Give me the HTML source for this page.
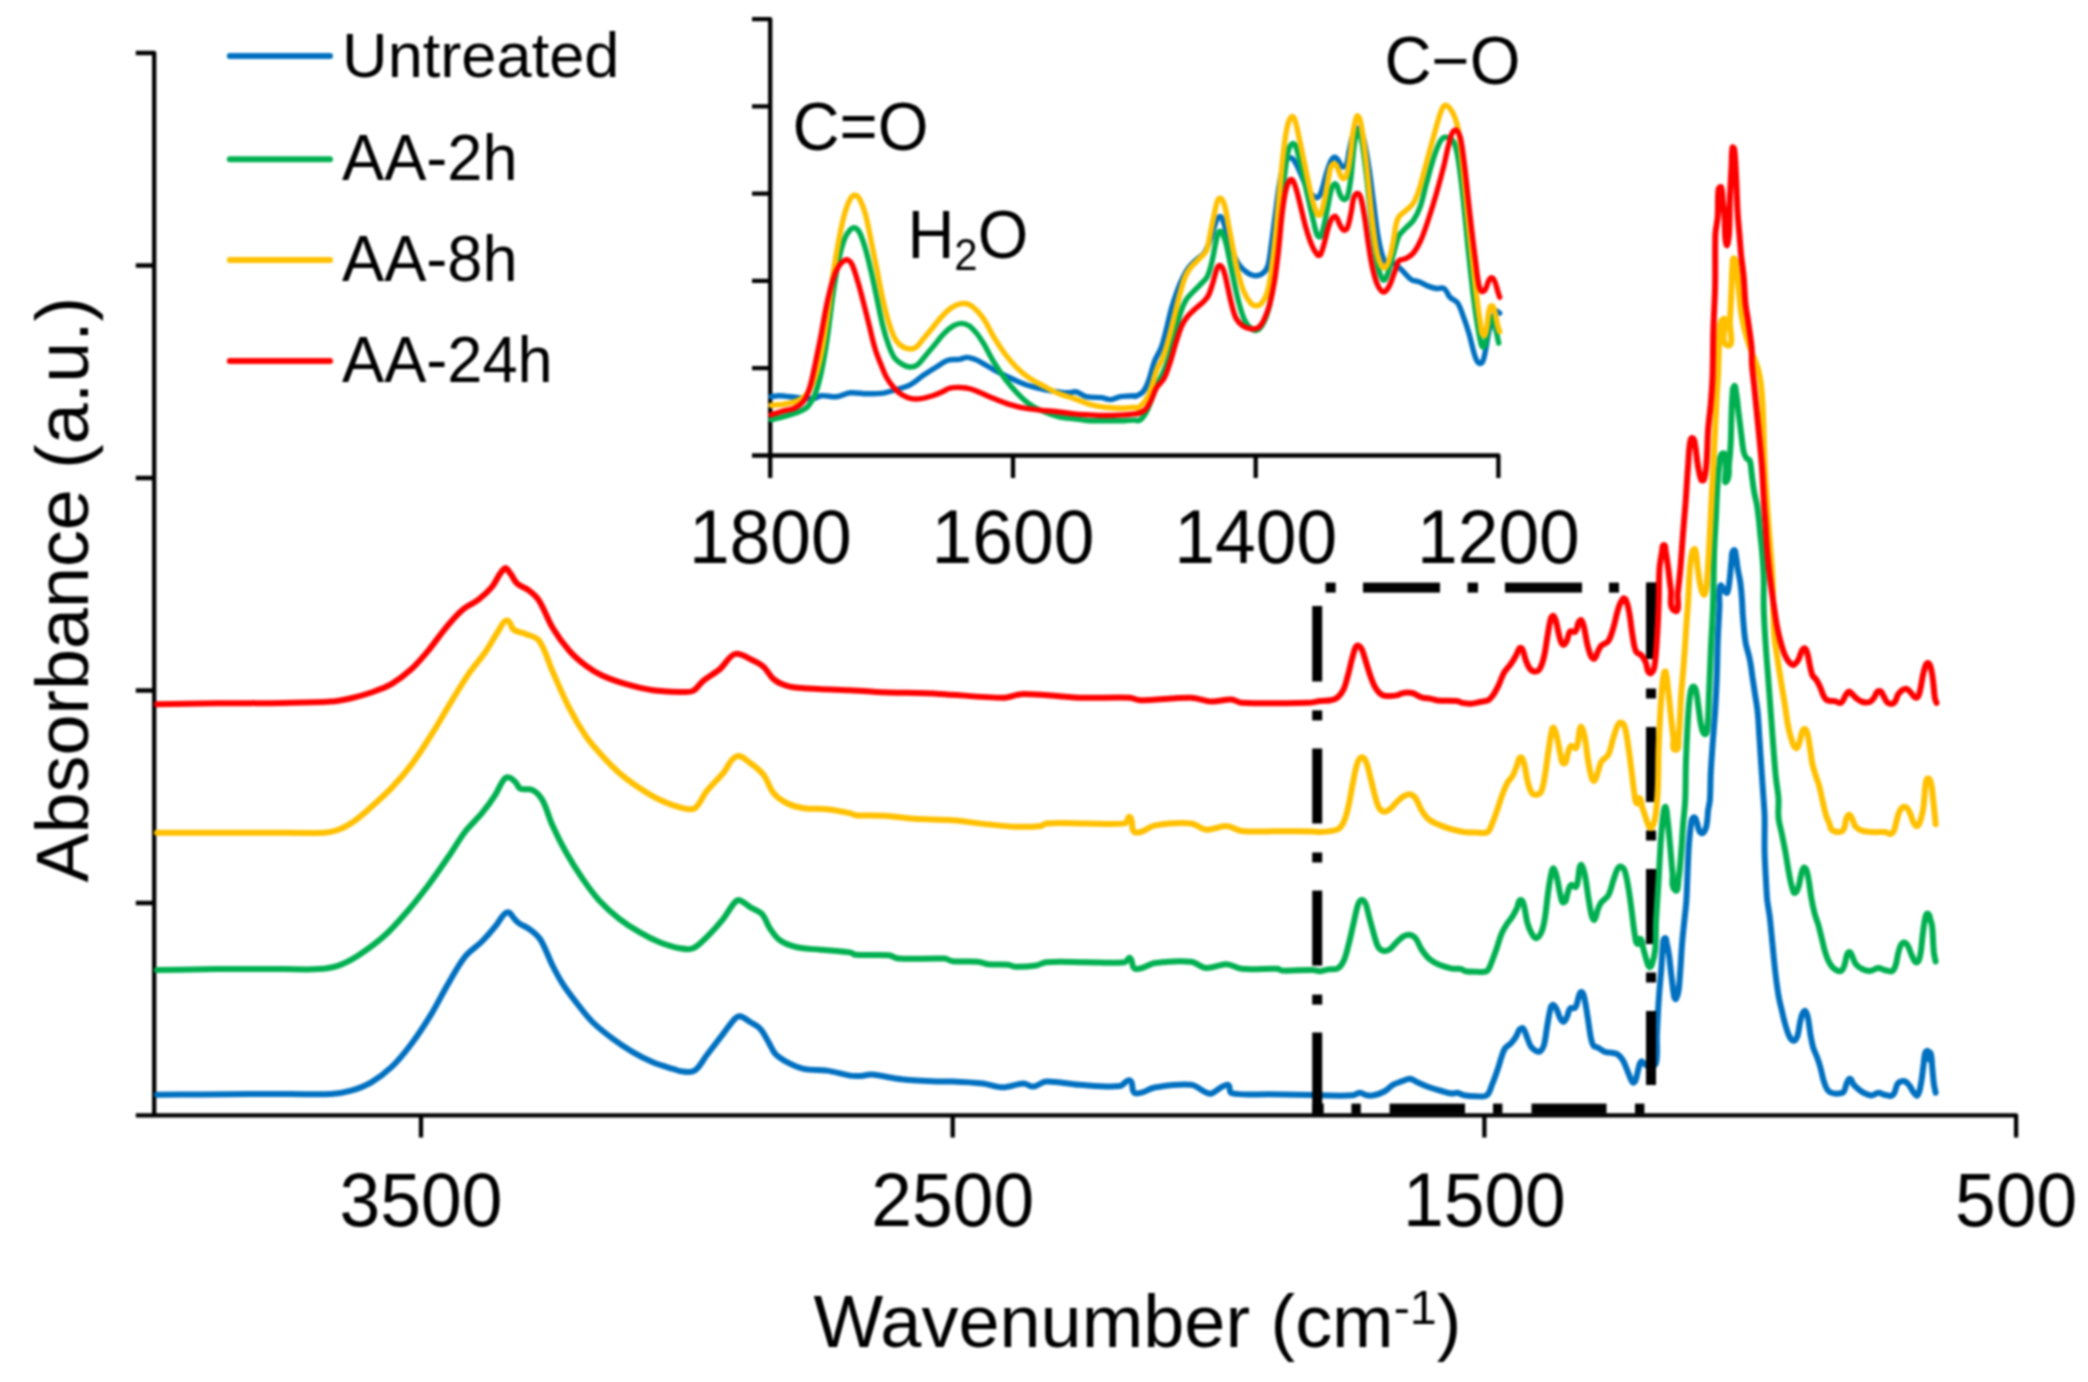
<!DOCTYPE html>
<html lang="en"><head><meta charset="utf-8"><title>FTIR spectra</title>
<style>
html,body{margin:0;padding:0;background:#fff;}
body{width:2088px;height:1382px;overflow:hidden;}
svg{display:block;filter:blur(0.8px);}
svg text{font-family:"Liberation Sans",sans-serif;fill:#000;}
</style></head><body>
<svg width="2088" height="1382" viewBox="0 0 2088 1382" role="img" aria-label="FTIR absorbance spectra">
<rect width="2088" height="1382" fill="#fff"/>
<path d="M135.8 53H154.2V1115.3M135.8 1115.3H2016.1V1137.5M135.8 265.5H154.2M135.8 478.0H154.2M135.8 690.5H154.2M135.8 903.0H154.2M421.0 1115.3V1137.5M952.7 1115.3V1137.5M1484.4 1115.3V1137.5" fill="none" stroke="#000" stroke-width="4.3" stroke-linecap="butt" stroke-linejoin="round"/>
<path d="M752 19.1H770.2V478M752 455.5H1498.4V478M752 106.4H770.2M752 193.6H770.2M752 280.9H770.2M752 368.2H770.2M1013.0 455.5V478M1255.7 455.5V478" fill="none" stroke="#000" stroke-width="4.3" stroke-linecap="butt" stroke-linejoin="round"/>
<path d="M157.0 1094.7C172.6 1094.6 188.2 1094.5 203.8 1094.4C219.4 1094.3 235.0 1094.1 250.6 1094.0C264.0 1094.0 277.4 1094.0 290.8 1094.0C304.2 1094.0 317.6 1094.8 331.0 1094.0C337.8 1093.7 344.6 1092.6 351.1 1090.7C358.1 1088.6 365.0 1086.0 371.3 1082.3C378.5 1078.1 385.3 1073.0 391.4 1067.2C398.8 1060.1 405.3 1052.0 411.5 1043.7C418.7 1034.1 425.3 1023.9 431.6 1013.6C437.6 1003.8 442.5 993.3 448.4 983.4C453.7 974.3 458.5 964.8 465.1 956.6C469.8 950.7 476.6 946.8 481.9 941.5C486.7 936.7 491.1 931.6 495.3 926.4C498.3 922.7 500.4 918.2 503.7 914.7C505.0 913.3 507.0 911.7 508.7 912.3C511.1 913.1 512.0 916.2 513.7 918.0C515.4 919.8 516.8 921.7 518.8 923.1C522.5 925.6 526.9 927.0 530.5 929.8C534.3 932.7 538.1 935.8 540.6 939.8C545.4 947.7 548.2 956.7 552.3 965.0C555.4 971.2 558.6 977.5 562.4 983.4C566.4 989.8 571.1 995.9 575.8 1001.8C581.1 1008.7 586.4 1015.8 592.5 1022.0C598.7 1028.1 605.7 1033.5 612.6 1038.7C619.1 1043.6 625.8 1048.1 632.8 1052.1C639.2 1055.9 646.0 1059.3 652.9 1062.2C659.4 1064.9 666.2 1066.8 673.0 1068.9C676.3 1069.9 679.6 1071.3 683.0 1071.6C687.0 1071.9 691.5 1072.8 694.8 1070.6C700.0 1067.0 702.6 1060.5 706.5 1055.5C712.1 1048.2 717.7 1040.9 723.3 1033.7C727.2 1028.6 730.6 1023.2 735.0 1018.6C736.3 1017.3 738.2 1015.9 740.0 1016.3C743.8 1017.1 746.8 1019.9 750.1 1022.0C753.5 1024.1 757.4 1025.7 760.2 1028.7C763.7 1032.5 765.8 1037.5 768.5 1042.1C770.9 1045.9 772.2 1050.5 775.2 1053.8C778.5 1057.3 782.7 1059.9 787.0 1062.2C792.3 1065.0 797.8 1067.7 803.7 1068.9C811.4 1070.5 819.4 1069.4 827.2 1070.6C834.9 1071.7 842.3 1074.4 850.0 1075.6C853.6 1076.2 857.3 1076.1 860.9 1075.9C864.3 1075.8 867.7 1074.4 871.1 1074.6C881.3 1075.5 891.3 1078.1 901.5 1079.2C913.3 1080.4 925.2 1081.0 937.1 1081.5C942.1 1081.7 947.2 1081.3 952.3 1081.5C962.5 1081.9 972.6 1082.4 982.8 1083.5C989.6 1084.3 996.2 1087.3 1003.1 1087.3C1010.0 1087.3 1016.5 1083.7 1023.4 1083.5C1026.9 1083.4 1030.0 1086.9 1033.5 1086.6C1038.1 1086.2 1041.7 1081.7 1046.2 1081.5C1057.3 1081.1 1068.2 1084.1 1079.2 1084.8C1092.7 1085.6 1106.3 1087.2 1119.8 1086.1C1123.7 1085.7 1126.5 1078.8 1130.0 1080.5C1134.1 1082.4 1130.7 1092.0 1135.1 1093.2C1141.9 1095.0 1148.4 1088.4 1155.4 1087.3C1167.1 1085.6 1179.1 1083.6 1190.9 1084.8C1196.5 1085.4 1200.9 1090.1 1206.1 1092.4C1207.7 1093.1 1209.6 1094.3 1211.2 1093.7C1217.1 1091.6 1221.5 1085.0 1227.7 1084.8C1230.8 1084.7 1228.5 1092.5 1231.5 1093.2C1243.9 1095.9 1256.9 1093.9 1269.6 1094.2C1284.0 1094.5 1298.4 1094.6 1312.7 1094.9C1315.2 1095.0 1317.6 1095.3 1320.0 1095.3C1331.0 1095.4 1342.0 1096.1 1353.0 1095.3C1355.5 1095.2 1357.5 1092.7 1359.9 1092.7C1362.4 1092.7 1364.5 1094.9 1366.9 1095.3C1369.2 1095.8 1371.6 1095.8 1373.8 1095.3C1377.4 1094.5 1381.0 1093.3 1384.3 1091.5C1387.4 1089.8 1389.8 1086.7 1392.9 1084.9C1395.6 1083.4 1398.7 1082.5 1401.6 1081.4C1404.5 1080.4 1407.3 1078.7 1410.3 1078.8C1412.9 1079.0 1414.9 1081.3 1417.3 1082.3C1420.7 1083.9 1424.1 1085.4 1427.7 1086.7C1432.2 1088.3 1436.9 1089.7 1441.6 1091.0C1445.0 1092.0 1448.4 1093.2 1452.0 1093.6C1453.7 1093.8 1455.4 1092.5 1457.2 1092.7C1459.6 1093.1 1461.7 1094.9 1464.1 1095.3C1468.1 1096.1 1472.2 1096.2 1476.3 1096.2C1479.8 1096.2 1483.9 1097.4 1486.7 1095.3C1489.9 1093.1 1490.4 1088.5 1491.9 1084.9C1493.9 1080.4 1495.5 1075.7 1497.1 1071.0C1498.7 1066.4 1499.9 1061.7 1501.5 1057.1C1502.5 1054.2 1503.2 1051.0 1504.9 1048.5C1506.5 1046.3 1509.2 1045.2 1511.0 1043.2C1513.0 1041.1 1514.7 1038.7 1516.2 1036.3C1517.6 1034.1 1518.0 1031.3 1519.7 1029.3C1520.5 1028.5 1522.3 1027.6 1523.2 1028.5C1525.2 1030.5 1525.5 1033.7 1526.7 1036.3C1528.1 1039.8 1529.0 1043.6 1531.0 1046.7C1532.2 1048.6 1534.2 1050.1 1536.2 1051.1C1537.5 1051.7 1539.4 1051.9 1540.5 1051.1C1542.4 1049.6 1543.4 1047.2 1544.0 1045.0C1545.8 1038.2 1546.2 1031.1 1547.5 1024.1C1548.6 1018.3 1549.2 1012.4 1551.0 1006.8C1551.3 1005.8 1552.7 1004.5 1553.6 1005.0C1555.4 1006.1 1556.1 1008.4 1557.0 1010.2C1558.4 1013.0 1558.9 1016.3 1560.5 1018.9C1561.3 1020.2 1562.7 1022.2 1564.0 1021.5C1566.1 1020.5 1566.5 1017.6 1567.5 1015.5C1568.5 1013.2 1568.3 1010.3 1570.1 1008.5C1571.3 1007.3 1574.3 1009.1 1575.3 1007.6C1577.6 1004.4 1577.3 1000.0 1578.8 996.4C1579.4 994.8 1579.7 992.0 1581.4 992.0C1583.0 992.0 1583.5 994.7 1584.0 996.4C1585.6 1002.6 1586.4 1009.1 1587.4 1015.5C1588.7 1023.0 1589.4 1030.6 1590.9 1038.0C1591.5 1040.7 1591.9 1043.6 1593.5 1045.8C1594.4 1047.1 1596.5 1046.8 1597.9 1047.6C1600.3 1048.9 1602.2 1051.0 1604.8 1051.9C1607.0 1052.7 1609.5 1052.3 1611.8 1052.8C1613.8 1053.2 1616.1 1053.3 1617.8 1054.5C1620.0 1056.0 1621.7 1058.3 1623.0 1060.6C1625.2 1064.4 1626.5 1068.7 1628.2 1072.8C1629.7 1076.0 1630.4 1079.6 1632.6 1082.3C1633.2 1083.0 1634.8 1082.3 1635.2 1081.4C1637.0 1077.0 1637.3 1072.1 1638.7 1067.6C1639.3 1065.4 1639.4 1062.6 1641.3 1061.5C1642.5 1060.8 1643.5 1063.3 1644.7 1064.1C1646.4 1065.1 1648.0 1066.8 1650.0 1066.7C1652.3 1066.5 1655.5 1065.5 1656.0 1063.2C1658.1 1054.2 1656.5 1044.7 1656.9 1035.5C1657.4 1023.9 1657.9 1012.3 1658.7 1000.7C1659.3 990.3 1660.4 979.9 1661.3 969.5C1661.9 961.4 1662.1 953.2 1663.0 945.2C1663.3 942.8 1662.6 939.2 1664.7 938.2C1666.4 937.4 1666.4 941.6 1666.8 943.4C1667.8 947.4 1668.5 951.5 1669.1 955.6C1670.1 963.1 1670.7 970.6 1671.7 978.1C1672.5 984.5 1673.0 991.0 1674.3 997.3C1674.5 998.1 1675.6 999.7 1676.0 999.0C1677.6 996.4 1678.2 993.3 1678.6 990.3C1679.6 983.4 1679.8 976.4 1680.4 969.5C1681.0 960.8 1681.4 952.1 1682.1 943.4C1682.8 934.7 1683.8 926.0 1684.7 917.4C1685.3 911.6 1686.1 905.8 1686.4 900.0C1687.1 889.8 1687.2 879.6 1687.7 869.5C1688.1 860.8 1688.3 852.1 1689.0 843.4C1689.7 835.9 1690.2 828.3 1691.6 820.8C1691.9 819.4 1692.9 816.9 1694.3 817.4C1696.1 818.0 1696.2 820.8 1696.9 822.6C1697.9 825.4 1697.9 828.6 1699.5 831.3C1700.1 832.4 1701.9 833.8 1702.9 833.0C1705.0 831.4 1705.8 828.6 1706.4 826.0C1707.6 820.9 1707.5 815.6 1708.1 810.4C1708.6 806.9 1709.6 803.5 1709.9 800.0C1710.5 790.8 1710.3 781.6 1710.8 772.3C1711.2 763.7 1711.9 755.0 1712.5 746.3C1713.3 734.7 1714.4 723.2 1715.1 711.6C1715.8 700.0 1716.4 688.4 1716.8 676.8C1717.3 665.3 1717.3 653.7 1717.7 642.1C1718.1 630.5 1718.9 618.9 1719.4 607.4C1719.8 600.2 1718.1 592.6 1720.3 585.8C1721.0 583.6 1723.0 589.4 1724.6 591.0C1725.4 591.7 1726.9 593.7 1727.3 592.7C1729.1 587.8 1729.2 582.3 1729.9 577.1C1730.6 571.3 1730.8 565.5 1731.6 559.7C1732.0 556.5 1731.1 552.2 1733.7 550.2C1735.4 548.8 1735.5 554.1 1735.9 556.2C1736.8 560.2 1737.0 564.4 1737.7 568.4C1738.4 573.0 1739.6 577.6 1740.3 582.3C1741.1 588.2 1741.6 594.1 1742.0 600.0C1742.4 605.3 1742.4 610.7 1742.9 616.0C1743.6 624.7 1744.1 633.5 1745.5 642.1C1746.4 648.0 1748.7 653.6 1749.8 659.5C1751.0 665.2 1751.6 671.0 1752.4 676.8C1753.3 682.6 1754.2 688.4 1755.0 694.2C1755.9 700.0 1757.1 705.7 1757.6 711.6C1758.5 720.2 1758.8 728.9 1759.4 737.6C1760.0 746.3 1760.5 755.0 1761.1 763.7C1761.7 772.3 1762.3 781.0 1762.9 789.7C1763.4 798.4 1764.3 807.1 1764.6 815.8C1764.9 827.9 1764.3 840.0 1764.6 852.1C1764.9 863.7 1765.7 875.3 1766.3 886.8C1766.6 891.2 1766.7 895.6 1767.2 900.0C1767.9 905.8 1769.1 911.6 1769.8 917.4C1770.8 926.0 1771.5 934.7 1772.4 943.4C1773.3 952.1 1774.0 960.8 1775.0 969.5C1776.0 978.2 1777.0 986.9 1778.5 995.5C1779.4 1000.8 1780.7 1005.9 1782.0 1011.1C1783.0 1015.8 1784.1 1020.5 1785.4 1025.0C1786.7 1029.2 1787.7 1033.4 1789.8 1037.2C1790.7 1038.8 1792.3 1041.1 1794.1 1040.7C1796.1 1040.2 1797.0 1037.4 1797.6 1035.5C1799.0 1031.0 1799.1 1026.2 1800.2 1021.6C1800.9 1018.6 1801.4 1015.6 1802.8 1012.9C1803.3 1011.9 1804.7 1010.4 1805.4 1011.1C1807.1 1012.9 1807.5 1015.7 1808.0 1018.1C1809.2 1023.8 1809.6 1029.7 1810.6 1035.5C1811.3 1039.5 1812.1 1043.6 1813.2 1047.6C1814.1 1050.6 1815.6 1053.4 1816.7 1056.3C1817.9 1059.7 1819.2 1063.2 1820.2 1066.7C1821.5 1071.3 1822.2 1076.0 1823.6 1080.6C1824.5 1083.6 1825.4 1086.7 1827.1 1089.3C1828.1 1090.8 1829.7 1092.1 1831.4 1092.8C1833.6 1093.6 1836.1 1093.8 1838.4 1093.6C1840.2 1093.5 1842.5 1093.3 1843.6 1091.9C1845.7 1089.2 1845.5 1085.4 1847.1 1082.3C1847.8 1081.0 1848.7 1078.4 1850.2 1078.9C1852.1 1079.4 1851.9 1082.5 1853.2 1084.1C1854.4 1085.7 1855.9 1087.1 1857.5 1088.4C1859.4 1090.0 1861.3 1091.7 1863.6 1092.8C1866.0 1094.0 1868.6 1095.4 1871.4 1095.4C1873.9 1095.4 1875.9 1092.9 1878.3 1092.8C1880.2 1092.6 1881.8 1094.0 1883.5 1094.5C1885.8 1095.1 1888.1 1096.1 1890.5 1095.9C1891.9 1095.8 1893.3 1094.8 1894.0 1093.6C1895.7 1090.7 1895.8 1087.0 1897.4 1084.1C1898.2 1082.8 1899.5 1081.9 1900.9 1081.5C1902.3 1081.0 1904.0 1080.8 1905.3 1081.5C1907.1 1082.4 1908.3 1084.2 1909.6 1085.8C1911.3 1088.0 1912.2 1090.7 1913.9 1092.8C1914.9 1093.9 1916.5 1096.5 1917.4 1095.4C1919.9 1092.3 1920.1 1087.9 1920.9 1084.1C1922.1 1077.8 1922.6 1071.3 1923.5 1065.0C1924.1 1060.9 1924.0 1056.7 1925.2 1052.8C1925.5 1051.8 1927.3 1050.2 1927.8 1051.1C1929.4 1053.6 1927.1 1058.1 1929.6 1059.8C1931.5 1061.1 1929.6 1050.6 1930.4 1052.8C1932.1 1057.2 1931.7 1062.1 1932.2 1066.7C1932.8 1072.5 1933.1 1078.3 1933.9 1084.1C1934.3 1087.0 1935.1 1089.9 1935.6 1092.8" fill="none" stroke="#0070C0" stroke-width="6.0" stroke-linejoin="round" stroke-linecap="round"/>
<g fill="#000"><rect x="1325.6" y="582.6" width="10.1" height="10.0"/><rect x="1363.0" y="582.6" width="77.0" height="10.0"/><rect x="1467.6" y="582.6" width="10.4" height="10.0"/><rect x="1505.0" y="582.6" width="77.0" height="10.0"/><rect x="1609.0" y="582.6" width="10.0" height="10.0"/><rect x="1647.0" y="582.6" width="9.0" height="10.0"/><rect x="1646.0" y="582.6" width="10.0" height="76.4"/><rect x="1646.0" y="727.0" width="10.0" height="75.0"/><rect x="1646.0" y="869.0" width="10.0" height="75.0"/><rect x="1646.0" y="1011.0" width="10.0" height="74.0"/><rect x="1646.0" y="688.5" width="10.0" height="10.0"/><rect x="1646.0" y="830.5" width="10.0" height="10.0"/><rect x="1646.0" y="972.5" width="10.0" height="10.0"/><rect x="1351.4" y="1103.6" width="9.4" height="10.0"/><rect x="1389.6" y="1103.6" width="75.4" height="10.0"/><rect x="1493.0" y="1103.6" width="9.4" height="10.0"/><rect x="1531.5" y="1103.6" width="75.0" height="10.0"/><rect x="1635.0" y="1103.6" width="9.4" height="10.0"/><rect x="1312.2" y="1103.6" width="11.5" height="10.0"/><rect x="1312.2" y="606.0" width="10.0" height="75.5"/><rect x="1312.2" y="748.5" width="10.0" height="75.0"/><rect x="1312.2" y="890.6" width="10.0" height="75.0"/><rect x="1312.2" y="1032.5" width="10.0" height="81.1"/><rect x="1312.2" y="710.4" width="10.0" height="10.0"/><rect x="1312.2" y="852.5" width="10.0" height="10.0"/><rect x="1312.2" y="994.6" width="10.0" height="10.0"/></g>
<path d="M157.0 970.1C177.0 969.8 197.0 969.3 217.0 969.1C239.4 968.9 261.7 969.1 284.1 969.1C295.3 969.1 306.5 969.8 317.6 969.1C324.4 968.7 331.3 967.9 337.7 965.8C344.9 963.4 351.5 959.8 357.9 955.7C367.3 949.7 376.4 943.1 384.7 935.6C393.2 927.9 400.6 919.1 408.1 910.5C415.2 902.3 421.8 893.9 428.3 885.3C435.2 876.0 441.8 866.4 448.4 856.8C454.1 848.5 459.0 839.7 465.1 831.7C470.2 825.1 476.6 819.7 481.9 813.2C486.7 807.3 491.2 801.2 495.3 794.8C498.4 790.0 500.2 784.3 503.7 779.7C504.8 778.2 506.9 777.0 508.7 777.4C511.4 777.9 513.5 780.1 515.4 782.0C517.4 784.0 517.9 787.6 520.5 788.8C524.0 790.4 528.7 788.0 532.2 789.8C536.4 791.9 539.9 795.7 542.2 799.8C546.7 807.7 548.6 816.7 552.3 825.0C556.4 834.1 560.8 843.1 565.7 851.8C570.9 861.0 576.5 869.9 582.5 878.6C587.7 886.1 593.0 893.6 599.2 900.4C605.4 907.1 612.2 913.2 619.3 918.8C625.7 923.8 632.5 928.2 639.5 932.2C645.9 936.0 652.6 939.5 659.6 942.3C666.1 944.9 672.8 947.1 679.7 948.3C684.1 949.1 689.0 950.0 693.1 948.3C698.5 946.1 702.4 941.3 706.5 937.3C712.5 931.5 718.0 925.3 723.3 918.8C727.6 913.5 730.4 907.1 735.0 902.1C736.2 900.8 738.4 899.8 740.0 900.4C743.9 901.7 746.7 905.0 750.1 907.1C753.9 909.5 758.8 910.5 761.8 913.8C765.7 918.0 767.0 924.1 770.2 928.9C773.1 933.1 776.0 937.7 780.3 940.6C785.2 944.0 791.2 946.0 797.0 947.3C804.7 949.1 812.7 948.9 820.5 949.7C830.3 950.6 840.2 950.9 850.0 952.4C852.1 952.7 853.7 954.7 855.8 954.8C866.8 955.7 877.9 954.4 888.8 955.3C892.4 955.7 895.4 958.4 899.0 958.6C914.2 959.5 929.5 957.9 944.7 958.6C947.4 958.8 949.6 960.9 952.3 961.2C960.7 962.0 969.3 961.0 977.7 961.7C981.2 962.0 984.4 963.9 987.8 964.2C994.6 964.9 1001.4 964.1 1008.1 964.7C1010.8 965.0 1013.1 966.7 1015.8 966.8C1022.5 966.9 1029.4 966.5 1036.1 965.5C1039.6 965.0 1042.7 962.4 1046.2 962.2C1059.3 961.3 1072.4 962.2 1085.6 962.2C1098.7 962.2 1111.9 963.5 1124.9 962.2C1127.1 962.0 1128.1 956.7 1130.0 957.9C1133.3 960.1 1131.1 968.0 1135.1 968.8C1142.0 970.2 1148.4 963.8 1155.4 963.0C1167.1 961.5 1179.1 960.5 1190.9 961.7C1196.4 962.2 1200.6 967.6 1206.1 968.0C1213.0 968.5 1219.6 964.1 1226.4 964.2C1231.7 964.3 1236.4 968.3 1241.7 968.8C1253.5 969.9 1265.4 968.3 1277.2 968.8C1279.0 968.9 1280.5 970.5 1282.3 970.6C1292.4 970.9 1302.6 969.9 1312.7 970.1C1315.2 970.1 1317.6 971.3 1320.0 971.2C1322.9 971.1 1325.8 969.9 1328.7 969.4C1331.6 969.0 1334.8 969.9 1337.4 968.6C1340.1 967.1 1342.1 964.4 1343.4 961.6C1346.0 956.1 1347.1 950.1 1348.7 944.3C1350.6 936.8 1352.1 929.2 1353.9 921.7C1355.3 915.9 1356.2 909.9 1358.2 904.3C1358.8 902.6 1359.8 900.2 1361.7 900.0C1363.4 899.8 1364.8 901.9 1365.5 903.4C1367.5 908.1 1368.1 913.3 1369.5 918.2C1370.9 923.4 1372.3 928.7 1373.8 933.8C1375.2 938.2 1375.9 942.9 1378.2 946.9C1379.2 948.8 1381.3 950.4 1383.4 950.9C1385.4 951.3 1387.7 950.6 1389.5 949.5C1392.2 947.7 1394.0 944.8 1396.4 942.5C1398.7 940.4 1400.7 938.0 1403.4 936.4C1405.2 935.4 1407.3 934.4 1409.4 934.7C1411.7 935.0 1414.0 936.4 1415.5 938.2C1418.2 941.5 1419.2 945.9 1421.6 949.5C1423.9 952.9 1426.3 956.3 1429.4 959.0C1432.5 961.6 1436.1 963.5 1439.8 965.1C1443.7 966.7 1447.8 967.8 1452.0 968.6C1454.8 969.1 1457.8 968.4 1460.7 968.9C1462.5 969.3 1464.0 970.8 1465.9 971.2C1469.3 971.8 1472.8 971.7 1476.3 971.7C1479.8 971.7 1483.7 972.9 1486.7 971.2C1489.3 969.7 1489.9 966.1 1491.1 963.4C1493.0 958.8 1494.6 954.1 1496.3 949.5C1498.1 944.3 1499.4 938.9 1501.5 933.8C1502.9 930.5 1504.7 927.3 1506.7 924.3C1508.2 921.8 1510.4 919.8 1511.9 917.3C1513.8 914.3 1515.5 911.0 1517.1 907.8C1518.4 905.2 1517.8 900.7 1520.6 900.0C1522.8 899.4 1523.4 903.8 1524.1 906.0C1525.7 911.7 1525.9 917.7 1527.5 923.4C1528.5 927.0 1530.0 930.6 1531.9 933.8C1532.9 935.6 1534.2 938.5 1536.2 938.2C1538.8 937.7 1540.4 934.5 1541.4 932.1C1543.3 927.7 1544.1 922.9 1544.9 918.2C1546.4 908.9 1547.0 899.5 1548.4 890.2C1549.3 883.8 1550.3 877.4 1551.8 871.1C1552.1 870.1 1552.9 867.6 1553.6 868.5C1555.6 871.2 1556.2 874.8 1557.0 878.0C1558.5 883.7 1558.9 889.7 1560.5 895.4C1561.2 897.9 1561.5 903.0 1564.0 902.3C1567.0 901.6 1566.3 896.6 1567.5 893.7C1568.6 890.8 1568.5 886.9 1570.9 885.0C1572.4 883.8 1575.3 888.4 1576.2 886.7C1579.0 880.9 1578.1 873.9 1579.6 867.6C1579.9 866.6 1580.7 864.2 1581.4 865.0C1583.4 867.7 1584.1 871.2 1584.8 874.6C1586.4 882.0 1587.1 889.6 1588.3 897.1C1589.4 903.5 1590.1 910.0 1591.8 916.2C1592.2 917.6 1593.4 920.8 1594.4 919.7C1596.8 917.0 1596.5 912.7 1597.9 909.3C1598.8 906.9 1599.8 904.4 1601.3 902.3C1603.3 899.7 1606.7 898.3 1608.3 895.4C1610.9 890.6 1611.7 884.9 1613.5 879.8C1614.8 876.0 1615.8 871.9 1617.8 868.5C1618.5 867.4 1620.1 866.3 1621.3 866.7C1623.0 867.4 1624.2 869.3 1624.8 871.1C1626.5 876.1 1627.3 881.5 1628.2 886.7C1629.7 894.8 1630.6 902.9 1631.7 911.0C1632.9 919.7 1633.6 928.5 1635.2 937.1C1635.6 939.5 1635.5 943.2 1637.8 944.0C1639.6 944.6 1638.8 937.7 1640.4 938.8C1642.9 940.5 1642.2 944.6 1643.0 947.5C1644.2 951.7 1645.2 955.9 1646.5 960.0C1647.2 962.3 1647.3 965.1 1649.1 966.8C1649.8 967.6 1651.3 966.1 1651.7 965.1C1653.5 960.1 1654.6 954.8 1655.2 949.5C1656.1 940.2 1655.6 930.9 1656.0 921.6C1656.8 907.1 1657.8 892.6 1658.7 878.1C1659.5 863.7 1660.1 849.2 1661.3 834.7C1661.9 826.6 1662.6 818.5 1663.9 810.4C1664.1 809.1 1665.0 805.8 1665.6 806.9C1667.2 810.1 1666.9 813.9 1667.3 817.4C1668.4 826.0 1669.1 834.7 1669.9 843.4C1670.9 853.3 1671.5 863.1 1672.5 872.9C1673.2 878.8 1670.7 886.5 1675.2 890.3C1678.4 893.0 1678.0 882.3 1678.6 878.1C1680.0 869.5 1680.5 860.8 1681.2 852.1C1682.0 843.4 1682.3 834.7 1683.0 826.0C1683.6 817.4 1684.8 808.7 1685.2 800.0C1685.8 787.9 1685.5 775.8 1685.9 763.7C1686.5 747.4 1687.1 731.2 1688.2 715.0C1688.7 706.9 1689.3 698.7 1690.8 690.7C1691.1 689.1 1691.7 686.4 1693.4 686.4C1695.1 686.4 1695.6 689.1 1696.0 690.7C1697.4 696.4 1697.7 702.3 1698.6 708.1C1699.5 713.9 1699.9 719.8 1701.2 725.5C1701.9 728.5 1702.0 732.6 1704.7 734.1C1706.4 735.1 1707.1 730.9 1707.3 728.9C1708.5 717.4 1708.5 705.8 1709.0 694.2C1709.7 679.7 1710.1 665.2 1710.8 650.8C1711.4 636.3 1712.5 621.8 1713.0 607.4C1713.7 588.6 1713.6 569.8 1714.2 551.0C1714.6 539.4 1715.4 527.9 1716.0 516.3C1716.5 504.7 1716.9 493.1 1717.7 481.6C1718.1 475.8 1718.7 470.0 1719.4 464.2C1719.8 461.0 1719.7 457.5 1721.2 454.6C1721.7 453.6 1724.2 452.7 1724.6 453.8C1726.2 458.2 1725.6 463.0 1725.9 467.7C1726.2 472.3 1723.3 485.0 1726.4 481.6C1730.3 477.2 1728.3 470.0 1729.0 464.2C1729.8 457.3 1730.4 450.3 1730.7 443.4C1731.2 432.9 1731.2 422.5 1731.6 412.1C1731.8 406.3 1731.9 400.5 1732.5 394.7C1732.8 391.8 1732.1 388.1 1734.2 386.0C1735.5 384.8 1735.6 389.5 1735.9 391.3C1737.1 398.2 1737.7 405.2 1738.5 412.1C1739.4 419.0 1740.2 426.0 1741.1 432.9C1742.0 439.3 1742.4 445.7 1743.7 452.0C1744.2 454.2 1745.1 456.3 1746.4 458.1C1747.2 459.3 1749.3 459.4 1749.8 460.7C1751.2 464.6 1751.0 468.8 1751.6 472.9C1752.4 479.2 1753.1 485.6 1754.2 492.0C1754.8 496.1 1756.0 500.1 1756.8 504.1C1757.5 508.2 1758.0 512.2 1758.5 516.3C1759.2 522.1 1759.7 527.9 1760.2 533.7C1760.8 539.5 1761.5 545.2 1762.0 551.0C1762.7 559.7 1763.5 568.4 1763.7 577.1C1764.0 587.2 1763.4 597.3 1763.7 607.4C1764.0 619.0 1764.7 630.5 1765.5 642.1C1766.2 653.7 1767.2 665.3 1768.1 676.8C1768.9 688.4 1769.8 700.0 1770.7 711.6C1771.5 723.1 1772.4 734.7 1773.3 746.3C1774.1 756.7 1774.8 767.2 1775.9 777.6C1776.6 784.5 1778.0 791.4 1778.5 798.4C1778.9 804.7 1777.9 811.1 1778.5 817.4C1779.0 823.2 1780.8 828.9 1782.0 834.7C1783.1 840.5 1784.4 846.3 1785.4 852.1C1786.7 859.0 1787.6 866.0 1788.9 872.9C1789.9 878.2 1790.8 883.5 1792.4 888.6C1792.9 890.2 1793.4 893.4 1795.0 892.9C1797.2 892.3 1797.7 889.0 1798.5 886.8C1799.8 882.9 1800.0 878.7 1801.1 874.7C1801.7 872.3 1801.9 869.5 1803.7 867.7C1804.4 867.0 1805.9 868.5 1806.3 869.5C1807.7 873.3 1808.2 877.5 1808.9 881.6C1809.9 887.4 1810.4 893.2 1811.5 899.0C1812.4 904.2 1813.6 909.5 1814.9 914.6C1815.9 918.2 1817.4 921.5 1818.4 925.0C1819.7 929.6 1820.7 934.3 1821.9 938.9C1823.1 943.6 1823.9 948.3 1825.4 952.8C1826.5 956.4 1827.8 960.0 1829.7 963.2C1831.0 965.6 1832.7 967.8 1834.9 969.3C1836.7 970.5 1839.1 971.9 1841.0 971.1C1843.1 970.1 1843.7 967.2 1844.5 965.0C1845.7 961.6 1845.7 957.9 1847.1 954.6C1847.5 953.4 1848.5 951.6 1849.7 952.0C1851.3 952.5 1851.5 954.8 1852.3 956.3C1853.6 958.8 1854.0 961.9 1855.8 964.1C1857.6 966.4 1860.1 968.0 1862.7 969.3C1864.8 970.4 1867.3 971.2 1869.7 971.1C1872.7 970.8 1875.3 968.3 1878.3 968.1C1880.7 968.0 1882.9 969.7 1885.3 970.2C1887.6 970.7 1890.1 972.1 1892.2 971.1C1894.3 970.0 1895.0 967.2 1895.7 965.0C1897.0 961.0 1897.3 956.8 1898.3 952.8C1899.0 950.2 1899.5 947.4 1900.9 945.0C1901.6 943.8 1902.9 942.2 1904.4 942.4C1906.0 942.6 1907.1 944.4 1907.9 945.9C1909.7 949.2 1910.4 953.0 1912.2 956.3C1913.4 958.5 1914.1 962.4 1916.5 962.4C1918.9 962.4 1919.5 958.6 1920.0 956.3C1921.6 949.5 1921.7 942.4 1922.6 935.5C1923.4 929.7 1923.9 923.8 1925.2 918.1C1925.6 916.4 1926.2 913.2 1927.8 913.7C1929.9 914.4 1929.7 917.7 1930.4 919.8C1931.2 922.1 1931.9 924.4 1932.2 926.8C1933.1 935.4 1933.0 944.2 1933.9 952.8C1934.2 955.8 1935.1 958.6 1935.6 961.5" fill="none" stroke="#00B050" stroke-width="6.0" stroke-linejoin="round" stroke-linecap="round"/>
<path d="M157.0 832.7C175.6 832.7 194.2 832.7 212.8 832.7C231.4 832.7 250.0 832.7 268.6 832.7C287.1 832.7 305.8 833.4 324.3 832.7C328.9 832.5 333.4 831.5 337.7 830.0C342.5 828.3 347.0 826.1 351.1 823.3C357.1 819.3 362.5 814.6 367.9 809.9C375.9 802.8 384.0 795.8 391.4 788.1C398.5 780.7 405.3 772.9 411.5 764.6C418.7 754.9 425.2 744.7 431.6 734.4C438.6 723.4 444.9 712.0 451.7 700.9C457.2 691.9 462.5 682.8 468.5 674.1C473.7 666.6 480.0 659.8 485.2 652.3C490.1 645.3 493.8 637.6 498.7 630.5C501.1 626.9 502.7 620.7 507.0 620.5C510.9 620.3 510.6 627.6 513.7 629.8C517.1 632.3 521.7 632.2 525.5 633.9C530.1 635.8 535.9 636.5 538.9 640.6C545.4 649.5 547.8 660.7 552.3 670.7C557.8 683.1 562.9 695.6 569.1 707.6C574.1 717.4 579.6 727.0 585.8 736.1C590.8 743.3 596.7 749.8 602.6 756.2C607.9 762.1 613.4 767.8 619.3 773.0C625.7 778.5 632.5 783.4 639.5 788.1C645.9 792.4 652.5 796.6 659.6 799.8C667.1 803.3 675.0 806.3 683.0 808.2C686.9 809.1 691.6 810.5 694.8 808.2C700.3 804.2 702.2 796.7 706.5 791.4C711.7 785.0 717.9 779.3 723.3 773.0C727.9 767.6 730.0 758.7 736.7 756.2C741.4 754.5 746.0 760.1 750.1 762.9C755.0 766.3 759.9 770.0 763.5 774.7C767.8 780.2 769.1 787.7 773.6 793.1C777.1 797.4 782.0 800.7 787.0 803.2C792.2 805.8 798.0 807.3 803.7 808.2C811.5 809.4 819.4 808.4 827.2 809.2C834.9 810.0 842.4 811.6 850.0 813.2C852.0 813.7 853.8 815.1 855.8 815.2C865.1 815.9 874.5 815.2 883.8 815.8C893.9 816.4 904.0 818.1 914.2 818.8C926.9 819.6 939.6 819.4 952.3 820.3C965.0 821.3 977.7 823.4 990.4 824.6C998.8 825.5 1007.3 826.5 1015.8 826.7C1024.2 826.9 1032.7 826.8 1041.1 825.9C1043.0 825.7 1044.3 823.5 1046.2 823.4C1059.3 822.6 1072.4 823.4 1085.6 823.4C1098.7 823.4 1111.9 825.2 1124.9 823.4C1127.6 823.0 1127.9 815.2 1130.0 817.0C1134.0 820.5 1130.0 830.6 1135.1 832.3C1141.8 834.5 1148.3 826.5 1155.4 825.4C1167.1 823.5 1179.1 822.4 1190.9 823.4C1196.4 823.8 1200.6 829.3 1206.1 829.7C1213.0 830.2 1219.6 825.7 1226.4 825.9C1231.8 826.1 1236.3 830.4 1241.7 831.0C1253.4 832.2 1265.4 831.2 1277.2 831.2C1289.0 831.3 1300.9 831.3 1312.7 831.5C1315.2 831.5 1317.6 832.1 1320.0 832.0C1323.5 831.9 1327.0 831.8 1330.4 831.1C1333.4 830.6 1336.7 830.4 1339.1 828.5C1341.6 826.7 1343.1 823.6 1344.3 820.7C1346.4 815.7 1347.5 810.4 1348.7 805.1C1350.4 797.6 1351.4 790.0 1353.0 782.5C1354.3 776.1 1355.2 769.6 1357.3 763.4C1358.1 761.1 1359.2 757.8 1361.7 757.3C1363.7 756.9 1365.2 759.8 1366.0 761.7C1368.2 766.6 1369.0 772.1 1370.4 777.3C1371.9 783.1 1373.1 788.9 1374.7 794.7C1376.0 799.1 1376.8 803.7 1379.0 807.7C1380.1 809.6 1382.1 811.3 1384.3 811.7C1386.1 812.0 1388.0 810.6 1389.5 809.4C1392.1 807.5 1394.0 804.7 1396.4 802.5C1398.7 800.4 1400.8 798.0 1403.4 796.4C1405.2 795.3 1407.3 794.0 1409.4 794.3C1411.8 794.7 1414.1 796.2 1415.5 798.1C1418.3 801.8 1419.1 806.5 1421.6 810.3C1423.8 813.8 1426.2 817.3 1429.4 819.9C1432.4 822.3 1436.3 823.6 1439.8 825.1C1443.8 826.7 1447.8 828.2 1452.0 829.4C1456.0 830.5 1460.0 831.5 1464.1 832.0C1468.2 832.5 1472.2 832.5 1476.3 832.5C1480.1 832.5 1484.3 833.8 1487.6 832.0C1490.2 830.6 1490.7 826.9 1491.9 824.2C1493.9 819.7 1495.5 815.0 1497.1 810.3C1499.0 805.1 1500.4 799.8 1502.3 794.7C1503.9 790.5 1505.4 786.4 1507.6 782.5C1508.9 780.0 1511.4 778.1 1512.8 775.6C1514.6 772.3 1515.6 768.6 1517.1 765.2C1518.2 762.5 1517.8 758.0 1520.6 757.3C1522.8 756.8 1523.4 761.2 1524.1 763.4C1525.7 769.1 1526.0 775.1 1527.5 780.8C1528.6 784.9 1529.4 789.4 1531.9 792.9C1532.9 794.4 1535.3 795.0 1537.1 794.7C1538.9 794.3 1540.7 792.9 1541.4 791.2C1543.4 786.3 1544.0 780.8 1544.9 775.6C1546.3 767.5 1547.1 759.4 1548.4 751.3C1549.4 744.3 1550.3 737.3 1551.8 730.4C1552.1 729.4 1552.9 727.0 1553.6 727.8C1555.6 730.5 1556.2 734.1 1557.0 737.4C1558.5 743.1 1559.0 749.0 1560.5 754.7C1561.3 757.7 1560.9 763.4 1564.0 763.4C1567.1 763.4 1566.3 757.6 1567.5 754.7C1568.6 751.8 1568.5 748.0 1570.9 746.0C1572.4 744.9 1575.3 749.4 1576.2 747.8C1579.0 742.6 1578.2 736.1 1579.6 730.4C1579.9 729.2 1580.6 725.9 1581.4 726.9C1583.6 729.9 1584.1 733.8 1584.8 737.4C1586.4 745.4 1586.9 753.6 1588.3 761.7C1589.2 767.2 1590.1 772.8 1591.8 778.2C1592.2 779.3 1593.5 781.6 1594.4 780.8C1596.6 778.6 1596.8 775.0 1597.9 772.1C1599.1 768.7 1599.4 764.8 1601.3 761.7C1603.0 758.9 1606.8 757.7 1608.3 754.7C1611.0 749.3 1611.6 743.1 1613.5 737.4C1614.8 733.3 1615.8 729.0 1617.8 725.2C1618.5 723.9 1619.9 722.3 1621.3 722.6C1623.1 723.1 1624.2 725.2 1624.8 726.9C1626.6 733.2 1627.3 739.7 1628.2 746.0C1629.6 754.7 1630.6 763.4 1631.7 772.1C1632.6 779.0 1633.2 786.0 1634.3 792.9C1634.9 796.5 1634.4 800.8 1636.9 803.4C1638.3 804.7 1637.9 797.1 1639.5 798.1C1642.1 799.8 1641.2 804.0 1642.1 806.8C1643.3 810.3 1644.4 813.8 1645.6 817.3C1646.7 820.5 1647.4 823.9 1649.1 826.8C1649.5 827.6 1651.2 828.4 1651.7 827.7C1653.7 824.6 1654.6 820.9 1655.2 817.3C1656.6 808.1 1657.3 798.8 1657.8 789.5C1658.5 775.1 1658.1 760.7 1658.7 746.3C1659.3 730.1 1660.1 713.9 1661.3 697.7C1661.8 689.5 1662.5 681.4 1663.9 673.4C1664.0 672.5 1665.4 670.8 1665.6 671.6C1667.2 677.9 1667.4 684.3 1668.2 690.7C1669.2 698.8 1669.9 706.9 1670.8 715.0C1671.6 722.6 1672.4 730.1 1673.4 737.6C1674.0 741.7 1671.4 749.8 1675.5 749.8C1679.7 749.8 1678.2 741.8 1678.6 737.6C1680.1 723.2 1680.2 708.7 1681.2 694.2C1682.0 683.8 1683.1 673.4 1683.8 662.9C1684.8 650.2 1685.6 637.5 1686.4 624.7C1687.0 616.6 1687.7 608.5 1688.2 600.4C1688.8 589.7 1689.0 579.0 1689.9 568.4C1690.4 562.6 1691.0 556.7 1692.5 551.0C1692.8 550.0 1694.8 548.3 1695.1 549.3C1697.0 555.4 1696.8 562.0 1697.7 568.4C1698.8 575.4 1699.4 582.4 1701.2 589.2C1701.7 591.2 1703.7 596.3 1704.7 594.4C1707.3 589.2 1706.8 582.9 1707.3 577.1C1708.5 562.6 1709.1 548.1 1709.9 533.7C1710.5 522.1 1711.0 510.5 1711.6 498.9C1712.2 487.4 1712.8 475.8 1713.4 464.2C1713.9 452.6 1714.5 441.0 1715.1 429.5C1715.7 417.9 1716.2 406.3 1716.8 394.7C1717.3 386.6 1717.9 378.5 1718.2 370.4C1718.8 356.9 1718.6 343.3 1719.4 329.7C1719.6 326.8 1719.9 323.7 1721.2 321.0C1721.8 319.9 1724.3 318.0 1724.6 319.3C1726.8 327.8 1719.0 342.6 1727.3 345.3C1735.0 347.9 1729.3 329.2 1729.9 321.0C1730.7 309.5 1731.0 297.9 1731.6 286.3C1731.9 279.4 1731.8 272.4 1732.5 265.5C1732.7 263.1 1732.3 257.0 1734.2 258.5C1737.0 260.7 1736.2 265.4 1736.8 268.9C1737.7 274.7 1738.0 280.5 1738.5 286.3C1739.4 295.0 1739.9 303.7 1741.1 312.3C1742.0 318.2 1743.2 324.0 1744.6 329.7C1746.1 335.6 1747.9 341.4 1749.8 347.1C1752.2 354.1 1755.6 360.8 1757.6 367.9C1759.4 373.8 1760.4 379.9 1761.1 386.0C1762.1 394.7 1762.5 403.4 1762.9 412.1C1763.6 429.5 1763.8 446.8 1764.6 464.2C1765.2 478.7 1766.2 493.1 1767.2 507.6C1768.0 519.2 1768.9 530.8 1769.8 542.3C1770.7 553.9 1771.8 565.5 1772.4 577.1C1773.3 595.8 1773.0 614.7 1774.1 633.4C1774.7 642.2 1776.4 650.8 1777.6 659.5C1778.7 667.0 1779.9 674.5 1781.1 682.0C1782.2 689.0 1783.4 695.9 1784.6 702.9C1785.8 710.4 1786.6 718.0 1788.0 725.5C1788.9 730.1 1789.9 734.8 1791.5 739.3C1792.6 742.4 1792.9 746.7 1795.8 748.0C1797.8 748.9 1798.6 744.8 1799.3 742.8C1800.6 739.5 1800.7 735.8 1801.9 732.4C1802.4 731.0 1803.1 728.9 1804.5 728.9C1806.0 728.9 1806.7 731.0 1807.1 732.4C1808.5 736.9 1809.0 741.6 1809.7 746.3C1810.7 752.1 1811.2 757.9 1812.3 763.7C1813.2 767.8 1814.6 771.8 1815.8 775.8C1816.9 779.3 1818.3 782.7 1819.3 786.2C1820.7 791.4 1821.5 796.7 1822.8 801.9C1823.9 806.5 1824.8 811.2 1826.2 815.8C1827.2 818.7 1828.6 821.5 1829.7 824.4C1830.3 826.1 1830.1 828.3 1831.4 829.5C1833.3 831.2 1835.9 832.1 1838.4 832.1C1840.3 832.1 1842.6 831.2 1843.6 829.5C1845.4 826.5 1844.9 822.5 1846.2 819.1C1846.8 817.5 1847.4 814.8 1849.2 814.8C1850.9 814.8 1851.4 817.5 1852.3 819.1C1853.6 821.6 1853.9 824.8 1855.8 826.9C1857.5 828.9 1860.1 830.1 1862.7 830.9C1866.1 831.9 1869.6 831.9 1873.1 832.1C1877.2 832.3 1881.3 831.7 1885.3 832.1C1887.1 832.3 1888.7 834.2 1890.5 833.9C1892.1 833.5 1893.3 831.9 1894.0 830.4C1895.4 827.4 1895.6 824.0 1896.6 820.8C1897.6 817.3 1898.1 813.5 1900.0 810.4C1901.1 808.6 1903.2 806.6 1905.3 806.9C1907.5 807.4 1908.5 810.2 1909.6 812.2C1911.5 815.7 1912.0 819.9 1913.9 823.4C1914.6 824.7 1916.2 826.8 1917.4 826.0C1919.6 824.7 1920.1 821.6 1920.9 819.1C1922.1 815.2 1922.9 811.1 1923.5 806.9C1924.7 798.3 1924.5 789.6 1926.1 781.0C1926.3 779.8 1927.7 777.7 1928.7 778.4C1930.5 779.6 1930.8 782.3 1931.3 784.5C1932.3 789.1 1932.5 793.8 1933.0 798.4C1933.5 802.4 1933.9 806.4 1934.3 810.4C1934.7 815.1 1935.2 819.7 1935.6 824.3" fill="none" stroke="#FFC000" stroke-width="6.0" stroke-linejoin="round" stroke-linecap="round"/>
<path d="M157.0 704.3C177.0 703.9 197.0 703.5 217.0 703.3C239.4 703.0 261.8 703.3 284.1 702.9C299.7 702.7 315.4 702.7 331.0 701.6C337.8 701.1 344.5 699.7 351.1 698.2C357.9 696.7 364.7 694.8 371.3 692.5C378.1 690.1 385.1 687.8 391.4 684.2C398.6 679.9 405.3 674.7 411.5 669.1C417.6 663.5 422.9 657.0 428.3 650.6C434.1 643.6 439.2 635.9 445.0 628.8C450.3 622.5 455.5 615.9 461.8 610.4C466.8 606.0 473.3 603.7 478.5 599.7C483.4 595.9 488.0 591.7 492.0 586.9C496.8 581.2 498.7 572.9 504.7 568.5C506.7 567.0 508.8 571.6 510.4 573.5C513.0 576.6 514.1 580.9 517.1 583.6C520.4 586.6 525.3 587.5 528.8 590.3C532.6 593.2 536.3 596.3 538.9 600.3C544.3 608.8 547.2 618.6 552.3 627.2C557.2 635.4 562.8 643.4 569.1 650.6C574.0 656.3 579.8 661.2 585.8 665.7C591.0 669.6 596.7 673.1 602.6 675.8C610.1 679.2 618.1 681.9 626.1 684.2C634.9 686.7 643.8 688.9 652.9 690.2C661.7 691.5 670.7 691.7 679.7 691.9C684.2 691.9 689.0 692.8 693.1 690.9C697.4 688.8 699.5 683.8 703.2 680.8C708.5 676.5 714.7 673.5 719.9 669.1C725.4 664.5 728.3 656.2 735.0 654.0C740.0 652.3 745.3 656.9 750.1 659.0C754.8 661.1 759.6 663.4 763.5 666.7C767.5 670.2 769.4 675.8 773.6 679.1C777.4 682.3 782.2 684.4 787.0 685.8C792.4 687.5 798.1 687.8 803.7 688.2C819.1 689.2 834.6 689.4 850.0 690.2C858.7 690.6 867.4 691.5 876.1 691.9C897.3 692.8 918.5 692.9 939.6 693.9C960.8 694.9 981.9 697.7 1003.1 697.7C1010.0 697.7 1016.5 693.9 1023.4 693.9C1042.0 693.9 1060.6 697.1 1079.2 697.7C1096.1 698.3 1113.1 697.0 1130.0 697.7C1133.5 697.9 1136.6 700.3 1140.1 700.3C1157.1 700.3 1174.0 697.4 1190.9 697.7C1197.8 697.8 1204.3 701.2 1211.2 701.5C1218.0 701.8 1224.7 699.2 1231.5 699.5C1235.1 699.7 1238.1 702.6 1241.7 702.8C1263.6 703.8 1285.7 703.3 1307.7 702.8C1311.8 702.7 1315.9 701.6 1320.0 701.1C1323.5 700.7 1327.0 700.9 1330.4 700.2C1332.8 699.8 1335.4 699.2 1337.4 697.6C1339.9 695.6 1342.0 692.8 1343.4 689.8C1345.5 685.5 1346.5 680.6 1347.8 675.9C1349.4 670.2 1350.6 664.3 1352.1 658.6C1353.2 654.8 1353.9 650.8 1355.6 647.3C1356.0 646.3 1357.2 645.3 1358.2 645.5C1359.8 646.0 1361.0 647.5 1361.7 649.0C1363.6 653.2 1364.6 657.7 1366.0 662.0C1367.5 666.7 1368.7 671.4 1370.4 675.9C1371.9 680.1 1373.4 684.3 1375.6 688.1C1376.9 690.4 1378.6 692.6 1380.8 694.2C1382.2 695.3 1384.2 695.8 1386.0 695.9C1389.5 696.2 1393.0 696.0 1396.4 695.4C1398.8 695.0 1400.9 693.3 1403.4 693.0C1406.2 692.5 1409.2 692.5 1412.0 693.0C1413.9 693.3 1415.5 694.6 1417.3 695.4C1419.0 696.2 1420.6 697.2 1422.5 697.6C1425.3 698.3 1428.3 698.3 1431.1 698.9C1433.5 699.3 1435.7 700.4 1438.1 700.6C1444.4 701.1 1450.8 700.5 1457.2 701.1C1459.0 701.3 1460.6 702.5 1462.4 702.9C1465.3 703.4 1468.2 703.9 1471.1 703.7C1474.0 703.6 1476.9 702.6 1479.8 702.0C1482.7 701.4 1485.9 701.7 1488.5 700.2C1490.8 698.9 1492.2 696.4 1493.7 694.2C1495.7 691.2 1497.3 687.9 1498.9 684.6C1500.8 680.6 1501.9 676.3 1504.1 672.5C1505.9 669.3 1508.9 666.8 1511.0 663.8C1513.0 661.0 1514.6 658.0 1516.2 655.1C1517.5 652.8 1517.9 650.0 1519.7 648.1C1520.4 647.5 1521.9 648.2 1522.3 649.0C1524.1 652.5 1524.4 656.6 1525.8 660.3C1527.0 663.3 1528.0 666.5 1530.1 669.0C1531.4 670.5 1533.4 671.6 1535.3 671.6C1537.0 671.6 1538.8 670.4 1539.7 669.0C1541.9 665.3 1543.0 661.0 1544.0 656.8C1545.6 650.0 1546.3 642.9 1547.5 636.0C1548.6 629.9 1549.2 623.7 1551.0 617.8C1551.3 616.8 1552.8 615.4 1553.6 616.0C1555.3 617.4 1555.6 620.0 1556.2 622.1C1557.6 627.2 1558.1 632.6 1559.7 637.7C1560.4 640.2 1560.8 643.5 1563.1 644.7C1564.6 645.4 1565.8 642.6 1566.6 641.2C1568.2 638.2 1567.8 634.2 1570.1 631.6C1571.2 630.4 1574.1 632.9 1575.3 631.6C1577.6 629.1 1577.1 625.1 1578.8 622.1C1579.3 621.2 1580.6 619.6 1581.4 620.4C1583.1 622.1 1583.4 624.9 1584.0 627.3C1585.4 633.0 1586.0 638.9 1587.4 644.7C1588.4 648.5 1589.2 652.4 1590.9 656.0C1591.6 657.3 1593.2 659.3 1594.4 658.6C1596.6 657.2 1596.6 653.9 1597.9 651.6C1599.0 649.6 1599.7 647.2 1601.3 645.5C1603.3 643.6 1606.8 643.5 1608.3 641.2C1611.0 637.1 1612.0 632.0 1613.5 627.3C1615.5 620.7 1616.5 613.9 1618.7 607.3C1619.7 604.3 1620.9 601.1 1623.0 598.7C1623.6 598.0 1625.3 598.7 1625.6 599.5C1627.4 603.3 1628.3 607.5 1629.1 611.7C1630.6 619.7 1631.2 627.9 1632.6 636.0C1633.5 641.2 1633.9 646.8 1636.1 651.6C1636.9 653.5 1639.9 653.6 1641.3 655.1C1643.1 657.1 1644.6 659.5 1645.6 662.0C1646.9 665.1 1646.8 668.6 1648.2 671.6C1648.7 672.5 1650.0 673.9 1650.8 673.3C1652.7 672.0 1653.9 669.5 1654.3 667.3C1655.9 658.1 1656.3 648.7 1656.9 639.5C1657.7 627.9 1658.2 616.3 1658.6 604.7C1659.1 592.6 1658.7 580.5 1659.5 568.4C1659.9 562.6 1661.1 556.8 1662.1 551.0C1662.5 549.0 1661.8 544.9 1663.9 544.9C1666.0 544.9 1665.2 549.0 1665.6 551.0C1666.7 556.8 1667.4 562.6 1668.2 568.4C1669.2 575.3 1669.7 582.3 1670.8 589.2C1671.9 596.5 1668.2 607.7 1674.8 610.9C1680.3 613.7 1677.0 598.8 1677.8 592.7C1678.8 584.6 1679.6 576.5 1680.4 568.4C1681.4 556.8 1682.1 545.2 1683.0 533.7C1683.8 523.2 1684.8 512.8 1685.6 502.4C1686.5 489.7 1687.2 476.9 1688.2 464.2C1688.7 457.2 1688.8 450.2 1689.9 443.4C1690.2 441.4 1690.7 437.5 1692.5 438.1C1694.9 438.9 1694.6 442.7 1695.1 445.1C1696.4 451.4 1696.6 457.9 1697.7 464.2C1698.6 469.5 1699.3 474.9 1701.2 479.8C1701.5 480.6 1703.5 480.7 1703.8 479.8C1705.5 474.8 1706.0 469.5 1706.4 464.2C1707.4 452.6 1707.3 441.0 1708.1 429.5C1708.8 420.8 1710.0 412.1 1710.8 403.4C1711.5 394.7 1712.2 386.1 1712.5 377.4C1713.1 361.5 1712.9 345.6 1713.4 329.7C1713.8 315.2 1714.8 300.8 1715.1 286.3C1715.5 268.9 1714.8 251.6 1715.4 234.2C1715.7 228.4 1717.3 222.7 1717.7 216.8C1718.3 207.6 1717.5 198.2 1718.6 189.0C1718.7 188.0 1720.9 186.3 1721.2 187.3C1722.7 192.3 1722.3 197.7 1722.9 202.9C1723.5 207.6 1724.3 212.2 1724.6 216.8C1725.4 226.1 1724.1 235.6 1726.4 244.6C1727.3 248.1 1728.7 237.8 1729.0 234.2C1729.9 222.6 1729.4 211.0 1729.9 199.5C1730.3 187.9 1731.0 176.3 1731.6 164.7C1731.9 158.9 1731.5 153.1 1732.5 147.4C1732.6 146.6 1734.1 148.3 1734.2 149.1C1735.3 157.2 1735.5 165.3 1735.9 173.4C1736.7 186.7 1736.9 200.1 1737.7 213.4C1738.1 220.3 1738.8 227.3 1739.4 234.2C1740.0 241.1 1740.4 248.1 1741.1 255.0C1741.9 262.6 1743.1 270.1 1743.7 277.6C1744.5 286.3 1744.6 295.0 1745.5 303.7C1746.1 309.5 1747.3 315.2 1748.1 321.0C1749.3 329.7 1750.8 338.4 1751.6 347.1C1752.1 352.5 1751.5 358.0 1751.9 363.5C1752.4 371.0 1753.4 378.5 1754.2 386.0C1755.0 394.7 1755.9 403.4 1756.8 412.1C1757.6 420.8 1758.6 429.5 1759.4 438.1C1760.3 448.0 1761.3 457.8 1762.0 467.7C1762.7 478.1 1763.1 488.5 1763.7 498.9C1764.2 507.6 1764.9 516.3 1765.5 525.0C1766.0 533.7 1766.5 542.4 1767.2 551.0C1767.7 556.8 1768.3 562.6 1768.9 568.4C1769.9 576.8 1770.9 585.1 1772.1 593.5C1772.7 598.1 1773.4 602.7 1774.1 607.4C1775.0 613.2 1775.7 619.0 1776.7 624.7C1777.7 630.0 1778.9 635.2 1780.2 640.4C1781.5 645.1 1782.7 649.8 1784.6 654.3C1785.9 657.4 1787.5 660.4 1789.8 662.9C1790.8 664.1 1792.7 665.3 1794.1 664.7C1796.2 663.8 1797.3 661.4 1798.5 659.5C1800.0 656.7 1800.4 653.5 1801.9 650.8C1802.5 649.7 1803.4 647.8 1804.5 648.2C1806.1 648.7 1806.6 650.9 1807.1 652.5C1808.4 656.5 1808.8 660.6 1809.7 664.7C1810.5 668.2 1810.9 671.8 1812.3 675.1C1813.3 677.2 1815.5 678.4 1816.7 680.3C1818.1 682.5 1819.1 684.9 1820.2 687.3C1821.4 690.1 1822.2 693.2 1823.6 695.9C1824.5 697.6 1825.4 699.5 1827.1 700.3C1829.5 701.4 1832.3 700.7 1834.9 701.1C1837.0 701.5 1839.1 703.8 1841.0 702.9C1843.4 701.7 1843.8 698.2 1845.3 695.9C1846.4 694.4 1847.0 692.0 1848.8 691.6C1850.2 691.2 1851.2 693.2 1852.3 694.2C1853.8 695.6 1855.0 697.3 1856.6 698.5C1858.5 699.9 1860.5 701.4 1862.7 702.0C1864.9 702.6 1867.5 702.8 1869.7 702.0C1871.6 701.3 1872.8 699.3 1874.0 697.7C1875.4 695.8 1875.7 693.1 1877.5 691.6C1878.3 690.8 1880.1 690.8 1880.9 691.6C1882.7 693.1 1883.2 695.7 1884.4 697.7C1885.5 699.4 1886.1 701.9 1887.9 702.9C1889.7 703.9 1892.4 704.2 1894.0 702.9C1896.5 700.8 1896.5 696.9 1898.3 694.2C1899.4 692.5 1900.9 690.9 1902.6 689.9C1903.9 689.1 1905.6 688.4 1907.0 689.0C1908.9 689.7 1909.8 692.0 1911.3 693.3C1913.0 694.8 1914.4 698.3 1916.5 697.7C1919.0 696.9 1919.3 693.2 1920.0 690.7C1921.3 686.2 1921.6 681.4 1922.6 676.8C1923.4 673.3 1924.0 669.8 1925.2 666.4C1925.7 665.1 1926.4 662.9 1927.8 662.9C1929.3 662.9 1930.0 665.0 1930.4 666.4C1931.8 670.9 1932.4 675.6 1933.0 680.3C1933.8 686.1 1933.9 691.9 1934.8 697.7C1935.1 699.5 1935.9 701.1 1936.5 702.9" fill="none" stroke="#FF0000" stroke-width="6.0" stroke-linejoin="round" stroke-linecap="round"/>
<path d="M771.0 396.7C773.7 396.4 776.4 395.6 779.2 395.7C785.6 395.9 791.9 397.1 798.4 397.6C803.5 398.1 808.6 399.0 813.7 398.6C816.4 398.4 818.6 396.0 821.4 395.7C826.5 395.3 831.6 397.2 836.7 396.7C841.3 396.2 845.5 393.3 850.1 392.8C855.9 392.3 861.6 393.8 867.4 393.8C873.1 393.8 878.9 393.7 884.6 392.8C889.2 392.1 893.6 390.4 898.1 389.0C901.9 387.8 906.0 387.1 909.6 385.2C914.4 382.6 918.4 378.7 923.0 375.6C927.4 372.6 931.9 369.7 936.4 367.0C940.2 364.6 943.7 361.7 947.9 360.2C951.6 359.0 955.6 359.9 959.4 359.3C962.0 358.9 964.5 357.4 967.1 357.4C969.7 357.4 972.3 358.4 974.8 359.3C977.4 360.3 979.9 361.7 982.4 363.1C986.3 365.3 990.0 367.7 993.9 369.8C999.0 372.5 1004.1 375.1 1009.3 377.5C1014.3 379.9 1019.4 382.3 1024.6 384.2C1029.0 385.8 1033.5 386.9 1038.0 388.1C1042.5 389.2 1047.0 390.2 1051.5 390.9C1056.6 391.8 1061.7 392.6 1066.8 392.8C1070.0 393.0 1073.2 391.3 1076.4 391.9C1079.9 392.6 1082.5 395.9 1086.0 396.7C1091.0 397.8 1096.2 397.1 1101.3 397.6C1104.6 398.0 1107.7 399.7 1110.9 399.6C1114.2 399.4 1117.2 397.2 1120.5 396.7C1124.9 395.9 1129.4 395.8 1133.9 395.7C1134.5 395.7 1134.8 396.8 1135.3 396.5C1138.1 395.3 1141.1 394.1 1143.0 391.8C1145.7 388.4 1147.3 384.3 1148.8 380.2C1151.1 374.0 1152.1 367.3 1154.5 361.1C1156.3 356.4 1159.5 352.4 1161.2 347.7C1163.7 340.8 1165.1 333.6 1167.0 326.6C1168.6 320.2 1169.9 313.7 1171.8 307.4C1173.5 301.6 1175.4 295.8 1177.5 290.1C1179.2 285.6 1181.1 281.1 1183.3 276.7C1184.9 273.4 1186.7 270.1 1189.0 267.1C1191.3 264.3 1194.1 261.9 1196.7 259.4C1199.2 257.1 1202.4 255.5 1204.4 252.7C1207.0 249.0 1208.5 244.5 1210.1 240.3C1212.0 235.3 1212.9 229.9 1214.9 224.9C1216.1 221.9 1216.6 217.5 1219.7 216.6C1221.9 215.9 1222.7 220.2 1223.5 222.3C1225.3 226.6 1226.0 231.3 1227.4 235.7C1229.2 241.5 1230.9 247.4 1233.1 253.0C1234.7 257.0 1236.4 261.0 1238.9 264.5C1241.0 267.5 1243.6 270.0 1246.6 272.2C1248.8 273.8 1251.4 275.3 1254.2 275.6C1256.8 275.9 1259.7 275.6 1261.9 274.1C1264.5 272.3 1266.7 269.5 1267.7 266.4C1270.0 259.0 1270.3 251.1 1271.5 243.4C1272.9 233.8 1274.0 224.2 1275.3 214.6C1276.6 205.1 1277.6 195.4 1279.2 185.9C1280.2 179.4 1281.2 173.0 1283.0 166.7C1283.8 164.0 1284.8 161.1 1286.8 159.0C1288.0 157.9 1290.1 157.4 1291.6 158.1C1293.5 158.9 1294.4 161.1 1295.5 162.9C1297.3 165.9 1298.8 169.2 1300.2 172.5C1302.3 176.9 1303.8 181.6 1306.0 185.9C1307.6 188.9 1309.3 192.1 1311.8 194.5C1313.3 196.0 1315.5 198.0 1317.5 197.4C1319.7 196.7 1320.5 193.8 1321.3 191.6C1323.4 186.0 1324.4 180.1 1326.1 174.4C1327.6 169.8 1328.8 165.2 1330.9 160.9C1331.7 159.3 1333.0 157.1 1334.8 157.1C1336.6 157.1 1337.5 159.5 1338.6 160.9C1340.0 162.7 1340.4 165.7 1342.4 166.7C1343.7 167.3 1345.7 166.1 1346.3 164.8C1348.1 160.6 1348.2 155.8 1349.1 151.4C1350.1 146.9 1350.8 142.4 1352.0 137.9C1352.7 135.3 1353.5 132.6 1354.9 130.3C1355.5 129.3 1356.7 128.0 1357.8 128.4C1359.5 128.8 1360.9 130.5 1361.6 132.2C1363.6 137.1 1364.4 142.4 1365.4 147.5C1367.0 155.2 1368.1 162.8 1369.3 170.5C1370.7 180.1 1371.8 189.7 1373.1 199.3C1374.7 211.4 1375.9 223.7 1377.9 235.7C1379.1 242.8 1380.5 250.0 1382.7 256.8C1383.4 259.0 1384.6 261.4 1386.5 262.6C1388.2 263.6 1390.5 262.0 1392.3 262.6C1394.5 263.3 1396.3 264.9 1398.0 266.4C1400.1 268.2 1401.9 270.2 1403.8 272.2C1406.4 274.7 1408.4 277.9 1411.5 279.8C1413.7 281.2 1416.7 280.8 1419.1 281.8C1421.8 282.8 1424.1 284.6 1426.8 285.6C1429.9 286.8 1433.1 287.9 1436.4 288.5C1438.9 288.9 1441.9 287.1 1444.1 288.5C1447.0 290.3 1447.5 294.6 1449.8 297.1C1452.0 299.4 1455.7 300.2 1457.5 302.8C1460.3 306.8 1461.5 311.7 1463.2 316.3C1465.4 321.9 1467.3 327.7 1469.0 333.5C1471.1 340.7 1472.4 348.2 1474.7 355.3C1475.6 358.0 1476.4 361.1 1478.6 363.0C1479.6 363.9 1481.8 363.2 1482.4 362.0C1484.3 358.9 1484.5 355.1 1485.3 351.5C1486.8 344.5 1487.5 337.3 1489.1 330.4C1490.1 326.5 1491.6 322.7 1493.0 318.9C1493.9 316.3 1493.8 313.0 1495.8 311.2C1496.9 310.3 1498.4 312.5 1499.7 313.1" fill="none" stroke="#0070C0" stroke-width="5.4" stroke-linejoin="round" stroke-linecap="round"/>
<path d="M771.0 419.7C775.0 418.7 779.0 417.9 783.0 416.8C788.2 415.4 793.4 414.1 798.4 412.0C801.8 410.6 805.4 409.0 807.9 406.3C811.4 402.4 813.7 397.7 815.6 392.8C818.3 386.1 819.8 378.9 821.4 371.8C823.7 361.0 825.5 350.1 827.1 339.2C829.3 324.5 830.7 309.7 832.9 295.1C834.6 283.5 836.3 272.0 838.6 260.5C840.1 253.4 841.8 246.3 844.4 239.4C845.7 236.0 847.6 232.6 850.1 229.9C851.3 228.6 853.3 227.4 854.9 227.9C857.1 228.6 858.7 230.7 859.7 232.7C862.3 237.9 863.8 243.5 865.5 249.0C867.7 256.6 869.4 264.3 871.2 272.0C873.3 281.0 875.1 289.9 877.0 298.9C878.9 307.8 880.5 316.9 882.7 325.7C884.3 332.2 886.2 338.6 888.5 344.9C890.0 349.2 891.6 353.6 894.2 357.4C896.2 360.2 899.0 362.3 901.9 364.1C904.2 365.5 906.8 366.8 909.6 367.0C912.2 367.1 915.1 366.5 917.2 365.0C920.4 362.9 922.4 359.3 924.9 356.4C928.2 352.6 931.3 348.7 934.5 344.9C937.7 341.1 940.6 336.9 944.1 333.4C947.0 330.5 950.1 327.8 953.7 325.7C956.0 324.4 958.7 323.4 961.3 323.4C964.0 323.4 966.8 324.3 969.0 325.7C972.0 327.7 974.4 330.6 976.7 333.4C979.6 337.0 982.0 341.0 984.4 344.9C987.7 350.6 990.5 356.6 993.9 362.2C997.5 368.1 1001.3 373.9 1005.4 379.4C1009.0 384.1 1012.9 388.6 1017.0 392.8C1020.6 396.6 1024.3 400.3 1028.5 403.4C1032.0 406.1 1035.9 408.3 1040.0 410.1C1046.2 412.8 1052.6 415.2 1059.1 416.8C1064.1 418.1 1069.4 418.1 1074.5 418.7C1079.6 419.4 1084.7 420.3 1089.8 420.7C1094.9 421.0 1100.0 420.7 1105.2 420.7C1111.6 420.7 1117.9 420.8 1124.3 420.7C1127.5 420.6 1130.7 420.1 1133.9 420.1C1135.7 420.1 1137.7 421.4 1139.2 420.5C1142.1 418.8 1144.2 415.8 1145.9 412.8C1148.4 408.7 1149.8 403.9 1151.6 399.4C1153.7 394.4 1155.2 389.1 1157.4 384.1C1159.1 380.1 1161.5 376.5 1163.1 372.6C1165.3 367.6 1167.3 362.5 1168.9 357.2C1171.2 349.7 1172.7 341.9 1174.7 334.2C1176.5 327.2 1178.1 320.0 1180.4 313.1C1181.9 308.5 1183.7 303.9 1186.2 299.7C1187.9 296.8 1190.5 294.5 1192.9 292.0C1195.3 289.4 1198.1 287.0 1200.5 284.4C1202.9 281.9 1205.7 279.7 1207.2 276.7C1209.6 271.9 1210.7 266.6 1212.0 261.4C1213.6 255.0 1214.4 248.5 1215.9 242.2C1216.7 238.7 1217.0 235.0 1218.8 231.9C1219.2 231.1 1221.1 231.1 1221.6 231.9C1223.6 234.7 1224.5 238.2 1225.5 241.5C1227.1 247.2 1228.1 253.0 1229.3 258.7C1230.9 266.4 1232.4 274.1 1234.1 281.8C1235.6 288.8 1237.0 295.9 1238.9 302.8C1240.5 308.7 1242.0 314.6 1244.6 320.1C1246.2 323.4 1248.4 326.6 1251.4 328.7C1253.2 330.0 1256.2 330.9 1258.1 329.7C1261.3 327.6 1263.1 323.6 1264.8 320.1C1267.0 315.2 1268.4 310.0 1269.6 304.8C1271.3 297.2 1272.4 289.5 1273.4 281.8C1274.9 270.3 1276.0 258.8 1277.2 247.2C1278.6 234.5 1279.8 221.7 1281.1 208.9C1282.3 196.7 1283.3 184.6 1284.9 172.5C1285.9 164.7 1286.7 157.0 1288.7 149.4C1289.3 147.2 1290.6 144.8 1292.6 143.7C1293.6 143.1 1295.0 144.6 1295.5 145.6C1297.3 149.9 1298.2 154.5 1299.3 159.0C1301.0 166.0 1302.5 173.1 1304.1 180.1C1305.7 187.2 1307.3 194.2 1308.9 201.2C1310.5 208.2 1311.9 215.3 1313.7 222.3C1314.8 226.8 1315.5 231.5 1317.5 235.7C1317.9 236.6 1319.9 237.6 1320.4 236.7C1322.6 232.9 1323.2 228.5 1324.2 224.2C1325.8 217.9 1326.7 211.4 1328.1 205.1C1329.3 199.3 1329.9 193.3 1331.9 187.8C1332.5 186.1 1334.3 182.9 1335.7 184.0C1338.5 186.0 1338.0 190.5 1339.6 193.5C1340.6 195.6 1341.3 198.3 1343.4 199.3C1344.7 199.9 1346.8 198.7 1347.2 197.4C1349.5 190.6 1350.1 183.4 1351.1 176.3C1352.3 166.7 1352.7 157.1 1353.9 147.5C1354.6 142.1 1355.3 136.5 1356.8 131.2C1357.0 130.6 1358.4 130.7 1358.7 131.2C1360.2 133.9 1361.0 136.9 1361.6 139.9C1363.3 148.7 1364.3 157.7 1365.4 166.7C1366.9 178.2 1368.0 189.7 1369.3 201.2C1370.6 212.7 1371.6 224.3 1373.1 235.7C1374.5 246.0 1375.7 256.3 1377.9 266.4C1378.9 271.1 1380.2 275.8 1382.7 279.8C1383.2 280.7 1385.1 279.8 1385.6 278.9C1387.5 275.6 1388.3 271.9 1389.4 268.3C1391.2 262.6 1392.5 256.8 1394.2 251.1C1395.7 245.9 1396.6 240.5 1399.0 235.7C1400.5 232.7 1403.4 230.5 1405.7 228.1C1408.2 225.4 1411.3 223.4 1413.4 220.4C1416.2 216.3 1418.4 211.7 1420.1 207.0C1422.6 200.1 1423.9 192.9 1425.8 185.9C1427.8 178.8 1429.5 171.8 1431.6 164.8C1433.3 159.0 1435.0 153.1 1437.4 147.5C1438.8 144.1 1440.2 140.3 1443.1 137.9C1444.6 136.7 1447.1 137.3 1448.9 137.9C1450.8 138.6 1452.7 139.9 1453.7 141.8C1455.7 145.9 1456.6 150.6 1457.5 155.2C1459.2 164.1 1460.2 173.1 1461.3 182.0C1462.8 194.2 1463.9 206.3 1465.2 218.5C1466.5 231.3 1467.6 244.0 1469.0 256.8C1470.2 268.3 1471.4 279.9 1472.8 291.3C1474.0 300.9 1475.2 310.5 1476.7 320.1C1477.8 327.2 1478.8 334.3 1480.5 341.2C1481.0 343.3 1481.3 347.6 1483.4 347.0C1486.0 346.1 1485.6 341.9 1486.3 339.3C1487.8 333.0 1488.1 326.3 1490.1 320.1C1490.4 319.0 1492.4 317.2 1493.0 318.2C1495.0 321.6 1495.0 325.8 1495.8 329.7C1496.9 334.2 1497.8 338.6 1498.7 343.1" fill="none" stroke="#00B050" stroke-width="5.4" stroke-linejoin="round" stroke-linecap="round"/>
<path d="M771.0 405.3C775.0 405.0 779.1 405.0 783.0 404.4C788.2 403.4 793.6 402.7 798.4 400.5C802.1 398.8 805.6 396.2 807.9 392.8C811.5 387.7 813.6 381.6 815.6 375.6C818.1 368.1 819.8 360.3 821.4 352.6C823.6 341.1 825.4 329.6 827.1 318.1C829.2 304.0 830.8 289.9 832.9 275.9C834.6 264.3 836.5 252.8 838.6 241.4C840.3 232.4 842.0 223.3 844.4 214.5C845.8 209.2 847.5 204.0 850.1 199.2C851.1 197.4 852.9 195.3 854.9 195.3C857.0 195.3 858.7 197.4 859.7 199.2C862.3 204.0 864.0 209.2 865.5 214.5C867.9 223.3 869.4 232.4 871.2 241.4C873.2 250.9 875.1 260.5 877.0 270.1C878.9 279.7 880.6 289.3 882.7 298.9C884.4 306.6 886.2 314.3 888.5 321.9C890.0 327.1 891.8 332.4 894.2 337.2C895.7 340.1 897.6 342.8 900.0 344.9C902.2 346.8 904.8 348.2 907.7 348.7C910.2 349.2 913.1 349.2 915.3 347.8C918.6 345.7 920.5 342.1 923.0 339.2C926.2 335.4 929.4 331.5 932.6 327.7C935.8 323.8 938.7 319.8 942.2 316.1C945.1 313.0 948.1 309.9 951.8 307.5C954.6 305.6 957.9 304.2 961.3 303.7C963.9 303.3 966.7 303.6 969.0 304.6C971.9 305.9 974.4 308.1 976.7 310.4C979.6 313.3 982.1 316.5 984.4 320.0C987.9 325.5 990.5 331.6 993.9 337.2C997.5 343.1 1001.3 349.0 1005.4 354.5C1009.0 359.2 1012.8 363.8 1017.0 367.9C1020.5 371.4 1024.3 374.7 1028.5 377.5C1033.3 380.8 1038.6 383.4 1043.8 386.1C1048.8 388.8 1053.8 391.7 1059.1 393.8C1064.1 395.8 1069.4 396.9 1074.5 398.6C1079.6 400.4 1084.6 402.9 1089.8 404.4C1094.8 405.8 1100.0 406.7 1105.2 407.2C1111.5 407.9 1117.9 408.2 1124.3 408.2C1127.5 408.2 1130.7 407.3 1133.9 407.2C1135.1 407.2 1136.2 408.6 1137.3 408.1C1140.3 406.5 1142.9 404.1 1144.9 401.3C1147.5 397.9 1149.2 393.9 1150.7 389.8C1153.0 383.6 1154.1 376.9 1156.4 370.7C1157.9 366.6 1160.6 363.1 1162.2 359.2C1164.4 353.5 1166.3 347.7 1167.9 341.9C1170.1 334.3 1171.8 326.6 1173.7 318.9C1175.6 311.2 1177.4 303.5 1179.4 295.9C1181.2 289.4 1182.7 282.9 1185.2 276.7C1186.6 273.2 1188.7 270.1 1190.9 267.1C1193.2 264.3 1196.1 262.1 1198.6 259.4C1201.3 256.6 1204.7 254.3 1206.3 250.8C1208.6 245.7 1208.9 240.0 1210.1 234.5C1211.5 228.1 1212.5 221.7 1214.0 215.3C1215.1 210.3 1215.9 205.1 1217.8 200.3C1218.2 199.2 1219.7 197.7 1220.7 198.3C1222.8 199.8 1223.8 202.6 1224.5 205.1C1226.4 211.3 1227.1 217.8 1228.3 224.2C1230.0 232.5 1231.5 240.9 1233.1 249.2C1234.7 256.8 1236.0 264.6 1237.9 272.2C1239.5 278.6 1241.2 285.2 1243.7 291.3C1245.4 295.5 1247.5 299.5 1250.4 302.8C1251.8 304.5 1254.0 305.7 1256.1 305.7C1258.3 305.7 1260.6 304.5 1261.9 302.8C1264.6 299.5 1266.6 295.5 1267.7 291.3C1270.1 281.9 1271.1 272.2 1272.4 262.6C1274.0 251.1 1275.1 239.6 1276.3 228.1C1277.7 214.0 1278.8 199.9 1280.1 185.9C1281.3 173.1 1282.4 160.3 1284.0 147.5C1284.9 139.8 1285.9 132.1 1287.8 124.5C1288.5 121.7 1289.4 118.7 1291.6 116.8C1292.5 116.1 1294.1 117.7 1294.5 118.8C1296.4 123.7 1297.2 129.0 1298.3 134.1C1300.1 141.7 1301.5 149.4 1303.1 157.1C1304.7 164.8 1306.3 172.5 1307.9 180.1C1309.5 187.2 1310.8 194.3 1312.7 201.2C1314.0 205.8 1315.2 210.5 1317.5 214.6C1318.0 215.5 1320.0 215.5 1320.4 214.6C1322.5 210.5 1323.2 205.8 1324.2 201.2C1325.8 194.2 1326.7 187.1 1328.1 180.1C1328.9 175.6 1329.2 170.9 1330.9 166.7C1331.5 165.2 1333.3 163.1 1334.8 163.8C1337.1 165.0 1337.4 168.3 1338.6 170.5C1339.9 173.1 1340.1 176.5 1342.4 178.2C1343.6 179.1 1345.8 177.6 1346.3 176.3C1348.5 170.2 1349.1 163.6 1350.1 157.1C1351.4 148.8 1351.7 140.5 1353.0 132.2C1353.7 127.7 1354.6 123.2 1355.9 118.8C1356.2 117.7 1356.9 115.2 1357.8 115.9C1359.7 117.4 1360.1 120.2 1360.7 122.6C1362.4 130.8 1363.4 139.2 1364.5 147.5C1366.0 159.0 1367.1 170.5 1368.3 182.0C1369.7 194.8 1370.6 207.6 1372.2 220.4C1373.5 231.3 1374.7 242.2 1377.0 253.0C1377.9 257.6 1379.3 262.3 1381.7 266.4C1382.4 267.5 1384.6 268.3 1385.6 267.4C1387.8 265.1 1388.5 261.8 1389.4 258.7C1391.1 253.1 1392.1 247.3 1393.3 241.5C1394.4 235.8 1394.8 229.9 1396.1 224.2C1396.7 221.6 1397.4 218.8 1399.0 216.6C1400.7 214.2 1403.6 212.8 1405.7 210.8C1408.4 208.3 1411.4 206.2 1413.4 203.1C1416.0 199.0 1417.6 194.3 1419.1 189.7C1421.4 182.8 1423.0 175.7 1424.9 168.6C1426.8 161.6 1428.7 154.6 1430.6 147.5C1432.6 140.5 1434.4 133.4 1436.4 126.4C1437.9 121.3 1439.2 116.1 1441.2 111.1C1442.1 109.0 1442.8 106.1 1445.0 105.3C1446.8 104.8 1448.6 106.8 1449.8 108.2C1451.9 110.7 1453.4 113.8 1454.6 116.8C1456.3 121.2 1457.6 125.7 1458.4 130.3C1459.8 137.9 1460.5 145.6 1461.3 153.3C1462.7 165.4 1463.9 177.6 1465.2 189.7C1466.5 202.5 1467.6 215.3 1469.0 228.1C1470.2 239.6 1471.6 251.1 1472.8 262.6C1474.1 274.1 1475.2 285.6 1476.7 297.1C1477.8 306.1 1478.9 315.0 1480.5 323.9C1481.2 327.8 1480.6 332.7 1483.4 335.4C1484.9 337.0 1485.8 331.8 1486.3 329.7C1487.7 323.4 1487.6 316.8 1489.1 310.5C1489.6 308.7 1490.2 305.1 1492.0 305.7C1494.3 306.5 1494.2 310.1 1494.9 312.4C1496.1 316.8 1496.6 321.4 1497.8 325.9C1498.2 327.8 1499.0 329.7 1499.7 331.6" fill="none" stroke="#FFC000" stroke-width="5.4" stroke-linejoin="round" stroke-linecap="round"/>
<path d="M771.0 414.9C775.0 413.6 779.0 412.2 783.0 411.1C786.8 410.0 791.0 410.0 794.5 408.2C798.2 406.4 801.7 403.8 804.1 400.5C807.0 396.6 808.5 391.8 809.9 387.1C812.3 378.9 813.8 370.5 815.6 362.2C817.7 352.6 819.5 343.0 821.4 333.4C823.3 323.2 824.9 312.9 827.1 302.7C828.8 295.0 830.5 287.3 832.9 279.7C834.3 275.1 836.1 270.5 838.6 266.3C840.0 264.0 842.1 262.0 844.4 260.5C845.5 259.8 847.1 259.6 848.2 260.2C849.9 261.0 851.3 262.6 852.0 264.4C854.5 269.9 856.1 275.8 857.8 281.6C859.9 288.6 861.7 295.7 863.5 302.7C865.5 310.4 867.4 318.1 869.3 325.7C871.2 333.4 872.8 341.2 875.1 348.7C876.6 354.0 878.8 359.0 880.8 364.1C882.6 368.6 884.2 373.3 886.6 377.5C888.7 381.3 891.3 384.8 894.2 388.1C896.5 390.6 899.0 393.0 901.9 394.8C904.8 396.6 908.1 397.9 911.5 398.6C914.6 399.2 917.9 399.0 921.1 398.6C925.0 398.1 928.8 396.9 932.6 395.7C935.9 394.7 939.0 393.3 942.2 391.9C944.8 390.7 947.1 388.7 949.8 388.1C953.6 387.2 957.5 387.3 961.3 387.5C964.6 387.6 967.8 388.1 970.9 389.0C974.2 389.9 977.3 391.5 980.5 392.8C985.0 394.7 989.4 396.8 993.9 398.6C999.0 400.6 1004.1 402.7 1009.3 404.4C1014.3 405.9 1019.4 407.2 1024.6 408.2C1029.7 409.1 1034.8 409.5 1040.0 410.1C1046.3 410.8 1052.8 411.3 1059.1 412.0C1064.3 412.6 1069.3 413.5 1074.5 413.9C1079.6 414.4 1084.7 414.6 1089.8 414.9C1094.9 415.2 1100.0 415.5 1105.2 415.5C1111.6 415.5 1117.9 415.2 1124.3 414.9C1127.5 414.7 1130.7 414.2 1133.9 413.9C1135.0 413.8 1136.2 414.2 1137.3 413.8C1139.9 412.8 1142.8 411.9 1144.9 410.0C1147.5 407.6 1149.1 404.4 1150.7 401.3C1152.9 397.0 1154.0 392.1 1156.4 387.9C1158.5 384.4 1162.2 381.9 1164.1 378.3C1166.7 373.5 1168.1 368.2 1169.9 363.0C1172.0 356.7 1173.6 350.2 1175.6 343.8C1177.4 338.0 1179.0 332.1 1181.4 326.6C1182.8 323.1 1184.8 319.9 1187.1 317.0C1189.3 314.1 1192.1 311.8 1194.8 309.3C1197.3 307.0 1200.1 305.0 1202.5 302.6C1204.5 300.5 1206.8 298.5 1208.2 295.9C1210.4 291.7 1211.5 287.0 1213.0 282.5C1214.4 278.0 1215.1 273.4 1216.8 269.0C1217.4 267.6 1218.2 265.2 1219.7 265.5C1221.7 265.8 1222.8 268.3 1223.5 270.2C1225.4 275.2 1226.2 280.5 1227.4 285.6C1228.7 291.3 1229.7 297.2 1231.2 302.8C1232.6 308.0 1233.6 313.4 1236.0 318.2C1237.5 321.2 1240.0 323.8 1242.7 325.9C1244.9 327.5 1247.7 328.4 1250.4 328.7C1252.9 329.1 1255.9 329.2 1258.1 327.8C1260.8 326.0 1262.4 323.0 1263.8 320.1C1266.3 315.2 1268.1 310.0 1269.6 304.8C1271.6 297.2 1273.1 289.5 1274.4 281.8C1276.0 272.2 1277.1 262.6 1278.2 253.0C1279.7 240.2 1280.5 227.4 1282.0 214.6C1283.0 206.3 1284.0 197.9 1285.9 189.7C1286.6 186.4 1287.7 182.9 1289.7 180.1C1290.3 179.3 1292.0 179.3 1292.6 180.1C1294.6 182.9 1295.4 186.4 1296.4 189.7C1298.3 196.0 1299.6 202.5 1301.2 208.9C1302.8 215.3 1304.2 221.7 1306.0 228.1C1307.7 233.9 1309.4 239.7 1311.8 245.3C1313.2 248.7 1315.0 252.1 1317.5 254.9C1318.1 255.6 1319.9 255.7 1320.4 254.9C1322.4 251.4 1323.1 247.3 1324.2 243.4C1325.7 238.3 1326.5 233.1 1328.1 228.1C1329.1 224.8 1330.0 221.3 1331.9 218.5C1332.7 217.3 1334.6 215.7 1335.7 216.6C1338.0 218.3 1338.1 221.7 1339.6 224.2C1340.7 226.2 1341.3 229.0 1343.4 230.0C1344.7 230.6 1346.6 229.4 1347.2 228.1C1349.4 223.2 1349.9 217.9 1351.1 212.7C1352.2 207.6 1352.3 202.3 1353.9 197.4C1354.5 195.7 1355.7 193.5 1357.4 193.5C1359.1 193.5 1360.2 195.8 1360.7 197.4C1362.6 203.6 1363.4 210.1 1364.5 216.6C1366.0 225.5 1366.9 234.5 1368.3 243.4C1369.5 251.1 1370.5 258.8 1372.2 266.4C1373.4 272.3 1374.8 278.1 1377.0 283.7C1378.0 286.5 1379.5 289.3 1381.7 291.3C1382.7 292.2 1384.6 292.2 1385.6 291.3C1387.8 289.3 1389.1 286.4 1390.4 283.7C1392.3 279.3 1393.5 274.7 1395.2 270.2C1396.4 267.0 1396.7 263.2 1399.0 260.7C1400.6 258.9 1403.7 259.8 1405.7 258.7C1408.5 257.2 1411.4 255.5 1413.4 253.0C1416.6 249.0 1419.0 244.3 1421.1 239.6C1424.1 232.7 1426.4 225.6 1428.7 218.5C1431.5 210.2 1434.0 201.9 1436.4 193.5C1439.1 184.0 1441.7 174.4 1444.1 164.8C1445.8 157.8 1447.0 150.7 1448.9 143.7C1449.9 139.8 1450.7 135.7 1452.7 132.2C1453.4 130.9 1455.4 129.4 1456.5 130.3C1458.8 132.0 1459.7 135.2 1460.4 137.9C1462.3 146.1 1463.1 154.5 1464.2 162.9C1465.7 174.3 1466.8 185.9 1468.0 197.4C1469.3 208.9 1470.5 220.4 1471.9 231.9C1473.1 242.1 1474.4 252.4 1475.7 262.6C1476.6 269.6 1477.2 276.7 1478.6 283.7C1479.1 286.3 1479.4 289.6 1481.5 291.3C1482.5 292.3 1484.5 290.6 1485.3 289.4C1487.2 286.6 1487.4 282.8 1489.1 279.8C1489.7 278.8 1490.9 277.6 1492.0 277.9C1493.5 278.4 1494.3 280.3 1494.9 281.8C1496.2 284.8 1496.8 288.2 1497.8 291.3C1498.4 293.3 1499.0 295.2 1499.7 297.1" fill="none" stroke="#FF0000" stroke-width="5.4" stroke-linejoin="round" stroke-linecap="round"/>
<path d="M229.8 56.0H330" stroke="#0070C0" stroke-width="6" stroke-linecap="round" fill="none"/>
<text transform="translate(342.0 77.0) scale(1 1.000)" font-size="63.2" text-anchor="start">Untreated</text>
<path d="M229.8 159.2H330" stroke="#00B050" stroke-width="6" stroke-linecap="round" fill="none"/>
<text transform="translate(342.0 180.2) scale(1 1.025)" font-size="63.2" text-anchor="start">AA-2h</text>
<path d="M229.8 260.0H330" stroke="#FFC000" stroke-width="6" stroke-linecap="round" fill="none"/>
<text transform="translate(342.0 281.0) scale(1 1.025)" font-size="63.2" text-anchor="start">AA-8h</text>
<path d="M229.8 360.9H330" stroke="#FF0000" stroke-width="6" stroke-linecap="round" fill="none"/>
<text transform="translate(342.0 381.9) scale(1 1.025)" font-size="63.2" text-anchor="start">AA-24h</text>
<text transform="translate(421.0 1225.6) scale(1 1.040)" font-size="73.2" text-anchor="middle">3500</text>
<text transform="translate(952.7 1225.6) scale(1 1.040)" font-size="73.2" text-anchor="middle">2500</text>
<text transform="translate(1484.4 1225.6) scale(1 1.040)" font-size="73.2" text-anchor="middle">1500</text>
<text transform="translate(2016.1 1225.6) scale(1 1.040)" font-size="73.2" text-anchor="middle">500</text>
<text transform="translate(770.3 563.4) scale(1 1.040)" font-size="73.2" text-anchor="middle">1800</text>
<text transform="translate(1013.0 563.4) scale(1 1.040)" font-size="73.2" text-anchor="middle">1600</text>
<text transform="translate(1255.7 563.4) scale(1 1.040)" font-size="73.2" text-anchor="middle">1400</text>
<text transform="translate(1498.4 563.4) scale(1 1.040)" font-size="73.2" text-anchor="middle">1200</text>
<text transform="translate(792.4 149.6) scale(1 1.040)" font-size="65.3" text-anchor="start">C=O</text>
<text transform="translate(907.4 257.8) scale(1 1.040)" font-size="65" text-anchor="start">H<tspan font-size="42" dy="11.7">2</tspan><tspan dy="-11.7">O</tspan></text>
<text transform="translate(1384.4 84.2) scale(1 1.040)" font-size="65.3" text-anchor="start">C−O</text>
<text x="1137.4" y="1346.5" font-size="73.9" text-anchor="middle">Wavenumber (cm<tspan font-size="48.5" dy="-23">-1</tspan><tspan dy="23">)</tspan></text>
<text transform="translate(88.2 589.7) rotate(-90)" font-size="73.7" text-anchor="middle">Absorbance (a.u.)</text>
</svg>
</body></html>
